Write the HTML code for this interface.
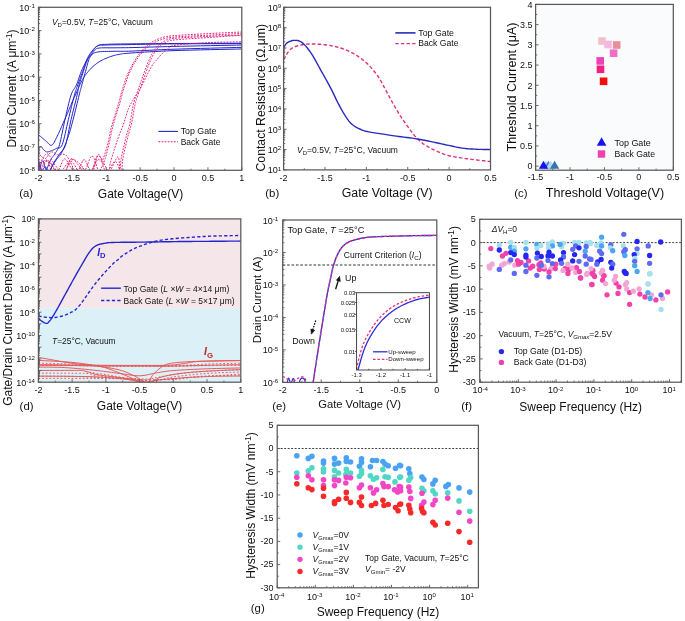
<!DOCTYPE html>
<html><head><meta charset="utf-8"><style>
html,body{margin:0;padding:0;background:#fff;}
svg{display:block;font-family:"Liberation Sans", sans-serif;will-change:transform;}
</style></head><body>
<svg width="685" height="621" viewBox="0 0 685 621">
<rect width="685" height="621" fill="#fff"/>
<clipPath id="ca"><rect x="38.5" y="7.3" width="203.3" height="163.0"/></clipPath>
<g clip-path="url(#ca)">
<path d="M38.50 163.31 L38.76 163.92 L39.11 164.82 L39.52 165.88 L39.98 167.03 L40.47 168.14 L40.96 169.13 L41.44 169.88 L41.89 170.30 L42.31 170.31 L42.72 169.97 L43.13 169.40 L43.54 168.70 L43.96 167.98 L44.38 167.35 L44.82 166.93 L45.28 166.81 L45.75 167.09 L46.25 167.70 L46.75 168.52 L47.27 169.43 L47.79 170.30 L48.31 171.01 L48.83 171.44 L49.34 171.46 L49.84 171.07 L50.31 170.35 L50.78 169.40 L51.25 168.26 L51.74 167.02 L52.25 165.73 L52.80 164.48 L53.41 163.31 L54.07 162.21 L54.79 161.07 L55.55 159.91 L56.33 158.73 L57.13 157.54 L57.94 156.36 L58.73 155.17 L59.51 154.00 L60.27 152.94 L61.05 152.04 L61.82 151.19 L62.60 150.32 L63.37 149.32 L64.13 148.11 L64.88 146.60 L65.61 144.69 L66.31 142.32 L66.99 139.55 L67.66 136.47 L68.32 133.19 L68.98 129.78 L69.64 126.35 L70.32 122.98 L71.03 119.77 L71.79 116.57 L72.60 113.24 L73.44 109.86 L74.29 106.51 L75.11 103.28 L75.87 100.24 L76.55 97.48 L77.13 95.09 L77.56 93.15 L77.86 91.62 L78.07 90.39 L78.23 89.35 L78.38 88.39 L78.56 87.39 L78.80 86.25 L79.16 84.84 L79.63 83.18 L80.17 81.36 L80.77 79.44 L81.40 77.46 L82.06 75.48 L82.70 73.53 L83.32 71.67 L83.90 69.94 L84.44 68.32 L84.95 66.75 L85.45 65.23 L85.94 63.77 L86.43 62.36 L86.92 61.02 L87.43 59.74 L87.97 58.53 L88.53 57.39 L89.09 56.34 L89.67 55.36 L90.26 54.44 L90.86 53.56 L91.46 52.72 L92.08 51.89 L92.71 51.08 L93.34 50.26 L93.96 49.45 L94.58 48.65 L95.21 47.89 L95.87 47.18 L96.57 46.53 L97.32 45.96 L98.13 45.49 L98.90 45.13 L99.56 44.87 L100.21 44.70 L100.93 44.59 L101.81 44.52 L102.93 44.46 L104.39 44.41 L106.27 44.32 L108.53 44.23 L111.08 44.16 L113.92 44.09 L117.02 44.04 L120.40 43.99 L124.02 43.95 L127.90 43.91 L132.02 43.86 L136.32 43.81 L140.77 43.76 L145.45 43.72 L150.40 43.68 L155.68 43.64 L161.34 43.59 L167.44 43.55 L174.03 43.51 L181.74 43.46 L190.75 43.41 L200.54 43.36 L210.54 43.31 L220.22 43.27 L229.02 43.22 L236.40 43.19 L241.80 43.16" fill="none" stroke="#2323c8" stroke-width="1.0" stroke-linejoin="round"/>
<path d="M38.50 147.71 L38.71 147.60 L39.00 147.41 L39.35 147.19 L39.73 146.96 L40.12 146.75 L40.52 146.59 L40.89 146.51 L41.21 146.55 L41.49 146.71 L41.73 146.97 L41.95 147.32 L42.17 147.71 L42.39 148.14 L42.64 148.57 L42.92 148.98 L43.24 149.34 L43.61 149.70 L44.01 150.09 L44.43 150.49 L44.88 150.89 L45.35 151.24 L45.85 151.55 L46.36 151.78 L46.90 151.90 L47.48 151.93 L48.10 151.86 L48.74 151.71 L49.41 151.51 L50.09 151.27 L50.76 151.01 L51.42 150.75 L52.05 150.51 L52.66 150.27 L53.25 150.02 L53.83 149.75 L54.41 149.47 L54.99 149.18 L55.57 148.86 L56.17 148.53 L56.80 148.18 L57.44 147.94 L58.09 147.89 L58.75 147.90 L59.42 147.84 L60.11 147.62 L60.80 147.09 L61.50 146.16 L62.22 144.69 L62.95 142.59 L63.70 139.96 L64.46 136.90 L65.23 133.55 L66.00 130.04 L66.78 126.48 L67.55 123.02 L68.32 119.77 L69.10 116.57 L69.91 113.24 L70.72 109.86 L71.54 106.51 L72.33 103.28 L73.08 100.24 L73.78 97.48 L74.42 95.09 L74.96 93.15 L75.41 91.62 L75.80 90.39 L76.15 89.35 L76.50 88.39 L76.88 87.39 L77.30 86.25 L77.80 84.84 L78.39 83.18 L79.05 81.36 L79.75 79.44 L80.47 77.46 L81.20 75.48 L81.92 73.53 L82.60 71.67 L83.23 69.94 L83.79 68.32 L84.32 66.75 L84.82 65.23 L85.30 63.77 L85.78 62.36 L86.26 61.02 L86.76 59.74 L87.29 58.53 L87.85 57.39 L88.41 56.33 L88.99 55.34 L89.58 54.41 L90.18 53.53 L90.79 52.68 L91.41 51.87 L92.04 51.08 L92.66 50.30 L93.26 49.53 L93.87 48.80 L94.49 48.11 L95.15 47.47 L95.85 46.89 L96.61 46.38 L97.46 45.95 L98.28 45.63 L99.02 45.42 L99.77 45.28 L100.59 45.20 L101.57 45.15 L102.79 45.12 L104.33 45.09 L106.27 45.02 L108.56 44.94 L111.13 44.88 L113.97 44.82 L117.07 44.78 L120.43 44.73 L124.04 44.68 L127.91 44.62 L132.02 44.56 L136.32 44.48 L140.77 44.39 L145.45 44.29 L150.40 44.19 L155.68 44.10 L161.34 44.01 L167.44 43.93 L174.03 43.86 L181.74 43.81 L190.75 43.76 L200.54 43.73 L210.54 43.70 L220.22 43.68 L229.02 43.66 L236.40 43.64 L241.80 43.63" fill="none" stroke="#2323c8" stroke-width="1.0" stroke-linejoin="round"/>
<path d="M38.50 172.63 L38.71 171.86 L39.00 170.79 L39.35 169.51 L39.73 168.12 L40.12 166.70 L40.52 165.37 L40.89 164.21 L41.21 163.31 L41.50 162.63 L41.77 162.02 L42.02 161.52 L42.27 161.13 L42.51 160.87 L42.75 160.75 L42.99 160.78 L43.24 160.99 L43.49 161.44 L43.72 162.16 L43.95 163.08 L44.18 164.11 L44.42 165.20 L44.67 166.25 L44.96 167.20 L45.28 167.97 L45.61 168.67 L45.95 169.42 L46.30 170.15 L46.67 170.81 L47.09 171.33 L47.55 171.66 L48.07 171.72 L48.66 171.46 L49.35 170.82 L50.12 169.80 L50.96 168.51 L51.84 167.03 L52.75 165.44 L53.67 163.85 L54.57 162.34 L55.44 160.99 L56.29 159.81 L57.15 158.74 L58.00 157.71 L58.86 156.69 L59.71 155.62 L60.55 154.46 L61.39 153.16 L62.22 151.67 L63.05 149.96 L63.88 148.07 L64.72 146.04 L65.55 143.91 L66.36 141.74 L67.14 139.56 L67.89 137.42 L68.59 135.37 L69.23 133.45 L69.80 131.63 L70.33 129.87 L70.84 128.09 L71.35 126.25 L71.87 124.29 L72.44 122.15 L73.06 119.77 L73.77 117.02 L74.55 113.90 L75.38 110.54 L76.22 107.09 L77.05 103.68 L77.84 100.46 L78.55 97.54 L79.16 95.09 L79.65 93.15 L80.04 91.62 L80.37 90.39 L80.64 89.35 L80.90 88.39 L81.18 87.39 L81.49 86.25 L81.87 84.84 L82.32 83.18 L82.81 81.36 L83.33 79.44 L83.86 77.46 L84.40 75.48 L84.94 73.53 L85.45 71.67 L85.94 69.94 L86.38 68.32 L86.78 66.76 L87.17 65.26 L87.55 63.81 L87.94 62.42 L88.35 61.07 L88.81 59.77 L89.33 58.53 L89.91 57.31 L90.56 56.13 L91.26 54.98 L91.98 53.89 L92.71 52.87 L93.42 51.93 L94.11 51.10 L94.75 50.38 L95.27 49.79 L95.67 49.34 L96.00 48.99 L96.34 48.72 L96.75 48.51 L97.29 48.35 L98.02 48.20 L99.02 48.05 L100.27 47.92 L101.72 47.84 L103.34 47.81 L105.11 47.80 L106.99 47.81 L108.96 47.83 L110.99 47.83 L113.04 47.82 L115.02 47.79 L116.90 47.78 L118.78 47.77 L120.78 47.76 L123.00 47.74 L125.54 47.71 L128.51 47.66 L132.02 47.58 L135.99 47.48 L140.30 47.36 L144.95 47.23 L149.98 47.07 L155.38 46.91 L161.18 46.75 L167.39 46.58 L174.03 46.42 L181.74 46.25 L190.75 46.05 L200.54 45.85 L210.54 45.65 L220.22 45.45 L229.02 45.28 L236.40 45.13 L241.80 45.02" fill="none" stroke="#2323c8" stroke-width="1.0" stroke-linejoin="round"/>
<path d="M38.50 158.66 L38.65 159.42 L38.85 160.47 L39.08 161.72 L39.35 163.10 L39.63 164.50 L39.93 165.83 L40.23 167.02 L40.53 167.97 L40.83 168.73 L41.15 169.39 L41.47 169.96 L41.80 170.45 L42.15 170.84 L42.50 171.14 L42.87 171.35 L43.24 171.46 L43.63 171.50 L44.03 171.46 L44.43 171.32 L44.85 171.10 L45.28 170.78 L45.72 170.35 L46.17 169.80 L46.63 169.14 L47.11 168.28 L47.60 167.22 L48.11 166.00 L48.62 164.70 L49.14 163.37 L49.67 162.07 L50.19 160.87 L50.70 159.82 L51.20 158.95 L51.70 158.20 L52.19 157.54 L52.69 156.91 L53.19 156.29 L53.70 155.62 L54.22 154.87 L54.76 154.00 L55.32 153.11 L55.89 152.28 L56.46 151.45 L57.05 150.54 L57.65 149.47 L58.26 148.19 L58.88 146.62 L59.51 144.69 L60.15 142.32 L60.80 139.55 L61.46 136.47 L62.13 133.19 L62.82 129.78 L63.51 126.35 L64.21 122.98 L64.93 119.77 L65.66 116.57 L66.42 113.24 L67.20 109.86 L67.98 106.51 L68.76 103.28 L69.54 100.24 L70.29 97.48 L71.03 95.09 L71.74 93.15 L72.43 91.62 L73.11 90.39 L73.78 89.35 L74.45 88.39 L75.11 87.39 L75.78 86.25 L76.45 84.84 L77.13 83.17 L77.80 81.33 L78.48 79.39 L79.16 77.39 L79.84 75.39 L80.52 73.45 L81.19 71.61 L81.87 69.94 L82.56 68.40 L83.26 66.92 L83.96 65.51 L84.67 64.18 L85.36 62.92 L86.03 61.75 L86.68 60.67 L87.29 59.69 L87.85 58.83 L88.36 58.10 L88.83 57.47 L89.28 56.91 L89.74 56.42 L90.23 55.95 L90.76 55.50 L91.36 55.04 L91.96 54.56 L92.52 54.11 L93.08 53.68 L93.69 53.27 L94.39 52.90 L95.22 52.56 L96.23 52.26 L97.46 52.01 L98.93 51.81 L100.61 51.66 L102.46 51.56 L104.45 51.48 L106.53 51.44 L108.69 51.40 L110.87 51.36 L113.04 51.31 L115.10 51.27 L117.01 51.26 L118.90 51.26 L120.88 51.27 L123.07 51.26 L125.57 51.24 L128.52 51.18 L132.02 51.08 L135.99 50.92 L140.30 50.73 L144.95 50.50 L149.98 50.25 L155.38 49.98 L161.18 49.72 L167.39 49.46 L174.03 49.21 L181.74 48.97 L190.75 48.70 L200.54 48.43 L210.54 48.17 L220.22 47.91 L229.02 47.69 L236.40 47.50 L241.80 47.35" fill="none" stroke="#2323c8" stroke-width="1.0" stroke-linejoin="round"/>
<path d="M38.50 134.67 L39.06 135.15 L39.80 135.80 L40.69 136.57 L41.67 137.42 L42.70 138.31 L43.74 139.19 L44.72 140.01 L45.62 140.73 L46.43 141.46 L47.22 142.30 L48.00 143.16 L48.76 143.97 L49.51 144.66 L50.26 145.13 L51.02 145.32 L51.78 145.15 L52.56 144.56 L53.35 143.60 L54.15 142.34 L54.94 140.89 L55.72 139.31 L56.49 137.69 L57.23 136.12 L57.95 134.67 L58.63 133.31 L59.29 131.93 L59.92 130.53 L60.53 129.13 L61.14 127.72 L61.74 126.31 L62.35 124.90 L62.96 123.50 L63.59 122.09 L64.22 120.69 L64.85 119.27 L65.48 117.86 L66.10 116.46 L66.72 115.06 L67.32 113.68 L67.91 112.32 L68.49 110.95 L69.07 109.56 L69.64 108.17 L70.19 106.80 L70.74 105.47 L71.26 104.18 L71.77 102.97 L72.25 101.84 L72.69 100.83 L73.10 99.93 L73.48 99.12 L73.84 98.35 L74.20 97.59 L74.57 96.82 L74.95 95.99 L75.37 95.09 L75.81 94.09 L76.28 93.03 L76.76 91.92 L77.25 90.79 L77.74 89.66 L78.22 88.55 L78.70 87.48 L79.16 86.47 L79.60 85.51 L80.04 84.57 L80.46 83.65 L80.88 82.76 L81.30 81.90 L81.71 81.06 L82.13 80.26 L82.55 79.49 L82.95 78.77 L83.33 78.12 L83.70 77.51 L84.07 76.92 L84.47 76.34 L84.90 75.73 L85.38 75.08 L85.94 74.36 L86.56 73.57 L87.23 72.73 L87.94 71.84 L88.70 70.93 L89.50 70.01 L90.32 69.10 L91.17 68.22 L92.04 67.38 L92.93 66.56 L93.85 65.76 L94.80 64.97 L95.78 64.19 L96.78 63.43 L97.82 62.70 L98.88 62.00 L99.96 61.32 L101.09 60.68 L102.27 60.06 L103.48 59.46 L104.71 58.89 L105.96 58.35 L107.21 57.84 L108.44 57.35 L109.66 56.90 L110.83 56.48 L111.96 56.10 L113.08 55.75 L114.20 55.43 L115.35 55.13 L116.54 54.85 L117.80 54.59 L119.14 54.34 L120.39 54.11 L121.44 53.93 L122.44 53.77 L123.55 53.62 L124.91 53.48 L126.67 53.33 L128.99 53.15 L132.02 52.94 L135.70 52.69 L139.87 52.41 L144.51 52.10 L149.59 51.79 L155.11 51.47 L161.04 51.17 L167.35 50.88 L174.03 50.61 L181.74 50.36 L190.75 50.12 L200.54 49.88 L210.54 49.65 L220.22 49.44 L229.02 49.26 L236.40 49.10 L241.80 48.98" fill="none" stroke="#2323c8" stroke-width="1.0" stroke-linejoin="round"/>
<path d="M38.50 166.34 L39.15 165.20 L40.01 163.51 L41.04 161.48 L42.19 159.32 L43.39 157.25 L44.61 155.48 L45.79 154.23 L46.88 153.70 L47.89 153.97 L48.89 154.87 L49.88 156.25 L50.86 157.95 L51.85 159.81 L52.84 161.68 L53.85 163.41 L54.87 164.85 L55.91 166.19 L56.96 167.67 L58.03 169.18 L59.10 170.62 L60.17 171.88 L61.24 172.85 L62.31 173.42 L63.35 173.51 L64.38 172.82 L65.39 171.36 L66.39 169.39 L67.39 167.19 L68.40 165.03 L69.42 163.20 L70.46 161.96 L71.54 161.58 L72.66 162.22 L73.83 163.66 L75.04 165.67 L76.25 168.01 L77.46 170.44 L78.64 172.73 L79.78 174.64 L80.86 175.93 L81.86 176.73 L82.78 177.34 L83.66 177.72 L84.52 177.88 L85.38 177.80 L86.26 177.47 L87.19 176.88 L88.19 176.02 L89.30 174.66 L90.51 172.72 L91.77 170.40 L93.06 167.89 L94.32 165.38 L95.52 163.08 L96.62 161.18 L97.58 159.88 L98.38 159.33 L99.04 159.40 L99.61 159.88 L100.11 160.56 L100.59 161.22 L101.07 161.66 L101.60 161.65 L102.20 160.99 L102.89 159.60 L103.65 157.69 L104.43 155.37 L105.23 152.80 L106.02 150.12 L106.76 147.47 L107.44 144.99 L108.03 142.82 L108.51 140.93 L108.90 139.16 L109.22 137.49 L109.51 135.88 L109.78 134.31 L110.05 132.75 L110.37 131.18 L110.74 129.55 L111.17 127.89 L111.62 126.23 L112.10 124.56 L112.59 122.90 L113.09 121.24 L113.60 119.58 L114.10 117.93 L114.60 116.28 L115.10 114.62 L115.62 112.95 L116.14 111.27 L116.66 109.60 L117.18 107.95 L117.68 106.33 L118.15 104.75 L118.60 103.24 L118.99 101.83 L119.33 100.54 L119.63 99.32 L119.93 98.11 L120.23 96.88 L120.57 95.57 L120.97 94.14 L121.45 92.53 L122.00 90.70 L122.62 88.68 L123.28 86.54 L123.98 84.32 L124.71 82.07 L125.46 79.86 L126.23 77.74 L127.00 75.76 L127.78 73.90 L128.58 72.11 L129.40 70.36 L130.24 68.67 L131.10 67.02 L131.98 65.41 L132.87 63.82 L133.78 62.25 L134.71 60.70 L135.66 59.17 L136.62 57.67 L137.60 56.20 L138.61 54.78 L139.62 53.40 L140.66 52.09 L141.71 50.84 L142.78 49.67 L143.86 48.55 L144.96 47.49 L146.08 46.48 L147.22 45.52 L148.37 44.61 L149.54 43.75 L150.72 42.93 L151.91 42.15 L153.10 41.43 L154.31 40.76 L155.53 40.13 L156.78 39.55 L158.06 39.01 L159.38 38.51 L160.75 38.04 L162.03 37.62 L163.15 37.27 L164.22 36.97 L165.37 36.70 L166.71 36.45 L168.37 36.21 L170.45 35.97 L173.08 35.71 L176.37 35.43 L180.23 35.16 L184.54 34.89 L189.15 34.62 L193.94 34.35 L198.75 34.10 L203.45 33.85 L207.92 33.61 L212.43 33.38 L217.25 33.13 L222.18 32.90 L227.04 32.67 L231.62 32.45 L235.73 32.26 L239.19 32.11 L241.80 31.98" fill="none" stroke="#e0207a" stroke-width="1.0" stroke-dasharray="1.8 1.3" stroke-linejoin="round"/>
<path d="M38.50 165.74 L39.19 165.19 L40.13 164.29 L41.24 163.19 L42.47 162.08 L43.75 161.09 L45.02 160.41 L46.22 160.20 L47.27 160.60 L48.20 161.88 L49.07 163.97 L49.89 166.61 L50.68 169.50 L51.47 172.38 L52.26 174.97 L53.09 176.99 L53.95 178.16 L54.85 178.48 L55.75 178.22 L56.66 177.50 L57.59 176.43 L58.54 175.14 L59.52 173.74 L60.53 172.36 L61.57 171.11 L62.67 169.81 L63.82 168.27 L65.00 166.58 L66.21 164.87 L67.43 163.24 L68.64 161.81 L69.82 160.68 L70.97 159.96 L72.07 159.65 L73.16 159.63 L74.22 159.88 L75.28 160.34 L76.33 160.98 L77.38 161.74 L78.44 162.60 L79.51 163.50 L80.61 164.60 L81.71 166.01 L82.83 167.60 L83.95 169.28 L85.06 170.93 L86.16 172.43 L87.24 173.68 L88.30 174.56 L89.33 175.12 L90.35 175.50 L91.35 175.69 L92.33 175.70 L93.31 175.54 L94.27 175.21 L95.23 174.73 L96.19 174.10 L97.15 173.32 L98.10 172.36 L99.06 171.24 L100.01 169.96 L100.93 168.53 L101.84 166.94 L102.72 165.20 L103.56 163.31 L104.37 161.17 L105.18 158.70 L105.97 156.02 L106.73 153.22 L107.45 150.40 L108.13 147.67 L108.75 145.11 L109.32 142.82 L109.79 140.82 L110.18 139.00 L110.51 137.32 L110.80 135.74 L111.07 134.21 L111.35 132.70 L111.66 131.16 L112.03 129.55 L112.44 127.89 L112.88 126.23 L113.34 124.56 L113.81 122.90 L114.29 121.24 L114.77 119.58 L115.26 117.93 L115.75 116.28 L116.25 114.62 L116.78 112.95 L117.31 111.27 L117.84 109.60 L118.37 107.95 L118.88 106.33 L119.37 104.75 L119.82 103.24 L120.22 101.83 L120.55 100.54 L120.86 99.32 L121.15 98.11 L121.45 96.88 L121.79 95.57 L122.19 94.14 L122.67 92.53 L123.22 90.70 L123.84 88.68 L124.50 86.54 L125.20 84.32 L125.93 82.07 L126.68 79.86 L127.45 77.74 L128.22 75.76 L129.00 73.90 L129.81 72.09 L130.63 70.33 L131.47 68.63 L132.33 66.97 L133.20 65.36 L134.09 63.79 L135.00 62.25 L135.92 60.76 L136.87 59.30 L137.83 57.89 L138.80 56.52 L139.80 55.20 L140.80 53.93 L141.83 52.71 L142.86 51.54 L143.91 50.44 L144.96 49.39 L146.04 48.39 L147.12 47.44 L148.23 46.54 L149.35 45.68 L150.50 44.87 L151.67 44.09 L152.86 43.36 L154.07 42.68 L155.29 42.04 L156.54 41.44 L157.81 40.89 L159.12 40.37 L160.46 39.89 L161.84 39.43 L163.11 39.03 L164.23 38.68 L165.31 38.37 L166.45 38.10 L167.78 37.84 L169.41 37.60 L171.46 37.36 L174.03 37.11 L177.23 36.85 L180.98 36.61 L185.15 36.37 L189.62 36.15 L194.26 35.92 L198.94 35.70 L203.53 35.47 L207.92 35.24 L212.38 35.00 L217.18 34.73 L222.11 34.46 L226.98 34.20 L231.58 33.94 L235.71 33.71 L239.19 33.52 L241.80 33.38" fill="none" stroke="#e0207a" stroke-width="1.0" stroke-dasharray="1.8 1.3" stroke-linejoin="round"/>
<path d="M38.50 171.51 L39.18 170.47 L40.08 168.89 L41.15 166.99 L42.35 164.99 L43.61 163.09 L44.91 161.51 L46.18 160.45 L47.39 160.13 L48.56 160.70 L49.79 162.02 L51.03 163.87 L52.28 166.03 L53.51 168.29 L54.71 170.43 L55.86 172.23 L56.94 173.48 L57.94 174.31 L58.87 174.99 L59.76 175.50 L60.61 175.81 L61.45 175.89 L62.28 175.72 L63.11 175.27 L63.97 174.51 L64.85 173.20 L65.74 171.26 L66.62 168.91 L67.51 166.38 L68.39 163.87 L69.26 161.63 L70.13 159.86 L70.99 158.79 L71.83 158.45 L72.66 158.64 L73.49 159.24 L74.31 160.13 L75.12 161.19 L75.95 162.31 L76.77 163.36 L77.62 164.22 L78.47 165.11 L79.31 166.23 L80.17 167.45 L81.02 168.64 L81.89 169.67 L82.77 170.42 L83.67 170.76 L84.59 170.56 L85.52 169.49 L86.47 167.53 L87.43 165.03 L88.41 162.31 L89.40 159.71 L90.40 157.57 L91.42 156.23 L92.44 156.02 L93.49 157.20 L94.56 159.56 L95.66 162.73 L96.77 166.35 L97.87 170.06 L98.95 173.49 L100.00 176.28 L101.01 178.06 L101.96 178.94 L102.86 179.31 L103.71 179.23 L104.56 178.78 L105.41 178.02 L106.29 177.01 L107.22 175.82 L108.23 174.52 L109.37 172.75 L110.65 170.29 L112.01 167.43 L113.38 164.43 L114.72 161.59 L115.95 159.17 L117.02 157.47 L117.87 156.77 L118.49 157.34 L118.92 159.07 L119.19 161.56 L119.37 164.46 L119.47 167.39 L119.56 169.97 L119.66 171.84 L119.82 172.63 L119.99 172.36 L120.12 171.40 L120.22 169.88 L120.32 167.94 L120.44 165.72 L120.61 163.34 L120.85 160.94 L121.18 158.66 L121.61 156.33 L122.14 153.76 L122.74 151.03 L123.38 148.22 L124.04 145.41 L124.70 142.66 L125.34 140.07 L125.92 137.70 L126.46 135.59 L127.00 133.68 L127.52 131.91 L128.04 130.22 L128.54 128.54 L129.03 126.83 L129.51 125.01 L129.99 123.03 L130.44 120.84 L130.87 118.49 L131.29 116.04 L131.70 113.54 L132.10 111.07 L132.51 108.68 L132.93 106.43 L133.37 104.40 L133.81 102.64 L134.23 101.13 L134.64 99.77 L135.06 98.49 L135.51 97.21 L136.01 95.84 L136.55 94.31 L137.17 92.53 L137.87 90.45 L138.66 88.16 L139.52 85.70 L140.40 83.15 L141.31 80.58 L142.20 78.06 L143.07 75.66 L143.88 73.43 L144.64 71.35 L145.37 69.34 L146.09 67.40 L146.79 65.53 L147.48 63.73 L148.18 62.00 L148.87 60.34 L149.57 58.76 L150.26 57.26 L150.93 55.85 L151.59 54.52 L152.25 53.26 L152.92 52.06 L153.63 50.91 L154.38 49.81 L155.19 48.75 L156.05 47.73 L156.95 46.75 L157.88 45.83 L158.85 44.96 L159.85 44.15 L160.88 43.38 L161.95 42.66 L163.06 42.00 L164.04 41.39 L164.84 40.86 L165.59 40.39 L166.42 39.96 L167.46 39.57 L168.84 39.20 L170.69 38.85 L173.15 38.50 L176.32 38.17 L180.13 37.86 L184.42 37.58 L189.05 37.32 L193.86 37.08 L198.71 36.85 L203.44 36.63 L207.92 36.41 L212.43 36.19 L217.24 35.98 L222.18 35.77 L227.03 35.58 L231.61 35.40 L235.73 35.24 L239.19 35.11 L241.80 35.01" fill="none" stroke="#e0207a" stroke-width="1.0" stroke-dasharray="1.8 1.3" stroke-linejoin="round"/>
<path d="M38.50 175.59 L39.18 174.29 L40.09 172.38 L41.16 170.09 L42.36 167.65 L43.63 165.29 L44.94 163.24 L46.23 161.73 L47.46 160.99 L48.67 161.23 L49.93 162.33 L51.23 163.99 L52.53 165.95 L53.82 167.93 L55.07 169.65 L56.26 170.83 L57.38 171.19 L58.39 170.56 L59.32 169.12 L60.19 167.14 L61.02 164.91 L61.84 162.68 L62.68 160.74 L63.57 159.35 L64.52 158.79 L65.54 159.19 L66.59 160.32 L67.68 161.99 L68.80 163.95 L69.92 165.98 L71.05 167.88 L72.18 169.40 L73.29 170.34 L74.40 170.63 L75.50 170.46 L76.60 169.99 L77.70 169.34 L78.81 168.66 L79.93 168.08 L81.05 167.76 L82.17 167.83 L83.33 168.48 L84.52 169.66 L85.72 171.14 L86.92 172.71 L88.11 174.13 L89.27 175.18 L90.38 175.64 L91.43 175.28 L92.41 173.76 L93.33 171.14 L94.20 167.82 L95.04 164.19 L95.87 160.63 L96.70 157.54 L97.56 155.30 L98.44 154.31 L99.35 154.82 L100.25 156.56 L101.15 159.15 L102.07 162.20 L103.01 165.35 L103.97 168.20 L104.96 170.37 L106.00 171.48 L107.11 171.39 L108.29 170.40 L109.53 168.81 L110.79 166.89 L112.03 164.91 L113.23 163.18 L114.35 161.96 L115.37 161.53 L116.29 162.09 L117.16 163.42 L117.99 165.26 L118.75 167.33 L119.45 169.38 L120.10 171.12 L120.67 172.30 L121.18 172.63 L121.56 172.13 L121.82 171.06 L121.98 169.53 L122.09 167.65 L122.19 165.51 L122.33 163.23 L122.54 160.91 L122.87 158.66 L123.32 156.33 L123.86 153.76 L124.45 151.03 L125.09 148.22 L125.75 145.41 L126.40 142.66 L127.03 140.07 L127.61 137.70 L128.16 135.59 L128.69 133.68 L129.22 131.91 L129.73 130.22 L130.23 128.54 L130.73 126.83 L131.21 125.01 L131.68 123.03 L132.13 120.84 L132.57 118.49 L132.98 116.04 L133.39 113.54 L133.80 111.07 L134.21 108.68 L134.63 106.43 L135.07 104.40 L135.50 102.64 L135.90 101.13 L136.31 99.77 L136.72 98.49 L137.16 97.21 L137.64 95.84 L138.18 94.31 L138.79 92.53 L139.50 90.45 L140.30 88.16 L141.16 85.70 L142.06 83.15 L142.98 80.58 L143.88 78.06 L144.76 75.66 L145.57 73.43 L146.34 71.35 L147.07 69.33 L147.79 67.38 L148.49 65.50 L149.18 63.69 L149.87 61.97 L150.56 60.32 L151.26 58.76 L151.95 57.30 L152.62 55.94 L153.28 54.67 L153.94 53.48 L154.62 52.35 L155.33 51.27 L156.08 50.23 L156.89 49.21 L157.75 48.23 L158.65 47.28 L159.58 46.38 L160.55 45.53 L161.55 44.73 L162.58 43.99 L163.65 43.31 L164.75 42.69 L165.74 42.16 L166.55 41.72 L167.31 41.35 L168.15 41.04 L169.18 40.75 L170.54 40.48 L172.34 40.20 L174.71 39.90 L177.74 39.59 L181.36 39.29 L185.43 38.99 L189.82 38.71 L194.39 38.42 L199.02 38.14 L203.57 37.86 L207.92 37.57 L212.35 37.26 L217.13 36.93 L222.06 36.60 L226.93 36.26 L231.55 35.95 L235.70 35.66 L239.18 35.42 L241.80 35.24" fill="none" stroke="#e0207a" stroke-width="1.0" stroke-dasharray="1.8 1.3" stroke-linejoin="round"/>
<path d="M38.50 152.60 L38.97 153.16 L39.59 154.01 L40.33 155.02 L41.15 156.09 L42.03 157.11 L42.92 157.97 L43.81 158.55 L44.65 158.74 L45.46 158.45 L46.30 157.74 L47.16 156.75 L48.02 155.59 L48.88 154.42 L49.73 153.34 L50.57 152.51 L51.39 152.04 L52.17 151.95 L52.91 152.13 L53.62 152.51 L54.34 153.01 L55.07 153.57 L55.84 154.12 L56.66 154.58 L57.56 154.90 L58.53 154.97 L59.55 154.83 L60.63 154.59 L61.74 154.34 L62.89 154.20 L64.05 154.28 L65.24 154.67 L66.42 155.49 L67.65 156.99 L68.94 159.19 L70.26 161.80 L71.59 164.58 L72.92 167.26 L74.21 169.57 L75.44 171.25 L76.59 172.03 L77.65 171.69 L78.65 170.37 L79.60 168.38 L80.51 166.05 L81.40 163.68 L82.27 161.58 L83.16 160.08 L84.06 159.49 L84.98 159.99 L85.89 161.40 L86.80 163.38 L87.71 165.65 L88.61 167.90 L89.51 169.80 L90.41 171.07 L91.30 171.40 L92.17 170.51 L92.99 168.60 L93.79 166.01 L94.60 163.11 L95.44 160.25 L96.32 157.79 L97.28 156.08 L98.33 155.48 L99.55 156.22 L100.96 158.04 L102.48 160.62 L104.03 163.60 L105.53 166.63 L106.90 169.38 L108.08 171.49 L108.98 172.63 L109.53 172.89 L109.78 172.64 L109.81 171.95 L109.73 170.88 L109.62 169.48 L109.58 167.83 L109.70 165.99 L110.06 164.01 L110.68 161.72 L111.46 158.99 L112.36 155.93 L113.34 152.68 L114.37 149.36 L115.40 146.10 L116.40 143.02 L117.31 140.26 L118.18 137.78 L119.05 135.43 L119.91 133.20 L120.76 131.06 L121.59 129.00 L122.40 126.99 L123.16 125.01 L123.89 123.03 L124.54 121.08 L125.13 119.17 L125.67 117.31 L126.19 115.49 L126.70 113.71 L127.25 111.97 L127.83 110.27 L128.49 108.59 L129.24 106.93 L130.06 105.27 L130.93 103.64 L131.82 102.04 L132.71 100.51 L133.58 99.06 L134.39 97.71 L135.14 96.48 L135.76 95.51 L136.27 94.83 L136.71 94.32 L137.13 93.85 L137.59 93.31 L138.13 92.56 L138.81 91.49 L139.68 89.96 L140.77 87.86 L142.08 85.23 L143.53 82.24 L145.06 79.06 L146.61 75.87 L148.11 72.82 L149.50 70.09 L150.72 67.84 L151.76 66.08 L152.66 64.66 L153.48 63.48 L154.24 62.49 L154.98 61.59 L155.75 60.73 L156.57 59.81 L157.50 58.76 L158.52 57.59 L159.60 56.38 L160.72 55.15 L161.87 53.93 L163.04 52.74 L164.21 51.62 L165.37 50.59 L166.51 49.68 L167.47 48.89 L168.20 48.20 L168.84 47.60 L169.52 47.06 L170.38 46.57 L171.57 46.12 L173.21 45.69 L175.46 45.26 L178.38 44.84 L181.88 44.45 L185.84 44.09 L190.13 43.76 L194.61 43.45 L199.15 43.18 L203.63 42.92 L207.92 42.69 L212.32 42.49 L217.08 42.32 L222.01 42.18 L226.89 42.07 L231.51 41.97 L235.68 41.89 L239.18 41.82 L241.80 41.76" fill="none" stroke="#e0207a" stroke-width="1.0" stroke-dasharray="1.8 1.3" stroke-linejoin="round"/>
</g>
<rect x="38.5" y="7.3" width="203.3" height="163.0" fill="none" stroke="#5a5a5a" stroke-width="1.25"/>
<path d="M38.50 170.30h3M38.50 147.01h3M38.50 123.73h3M38.50 100.44h3M38.50 77.16h3M38.50 53.87h3M38.50 30.59h3M38.50 7.30h3M38.50 163.29h1.6M38.50 159.19h1.6M38.50 156.28h1.6M38.50 154.02h1.6M38.50 152.18h1.6M38.50 150.62h1.6M38.50 149.27h1.6M38.50 148.08h1.6M38.50 140.00h1.6M38.50 135.90h1.6M38.50 132.99h1.6M38.50 130.74h1.6M38.50 128.89h1.6M38.50 127.34h1.6M38.50 125.99h1.6M38.50 124.79h1.6M38.50 116.72h1.6M38.50 112.62h1.6M38.50 109.71h1.6M38.50 107.45h1.6M38.50 105.61h1.6M38.50 104.05h1.6M38.50 102.70h1.6M38.50 101.51h1.6M38.50 93.43h1.6M38.50 89.33h1.6M38.50 86.42h1.6M38.50 84.17h1.6M38.50 82.32h1.6M38.50 80.76h1.6M38.50 79.41h1.6M38.50 78.22h1.6M38.50 70.15h1.6M38.50 66.05h1.6M38.50 63.14h1.6M38.50 60.88h1.6M38.50 59.04h1.6M38.50 57.48h1.6M38.50 56.13h1.6M38.50 54.94h1.6M38.50 46.86h1.6M38.50 42.76h1.6M38.50 39.85h1.6M38.50 37.60h1.6M38.50 35.75h1.6M38.50 34.19h1.6M38.50 32.84h1.6M38.50 31.65h1.6M38.50 23.58h1.6M38.50 19.48h1.6M38.50 16.57h1.6M38.50 14.31h1.6M38.50 12.47h1.6M38.50 10.91h1.6M38.50 9.56h1.6M38.50 8.37h1.6" stroke="#5a5a5a" stroke-width="0.9" fill="none"/>
<path d="M38.50 170.30v-3M72.38 170.30v-3M106.27 170.30v-3M140.15 170.30v-3M174.03 170.30v-3M207.92 170.30v-3M241.80 170.30v-3M55.44 170.30v-1.6M89.33 170.30v-1.6M123.21 170.30v-1.6M157.09 170.30v-1.6M190.98 170.30v-1.6M224.86 170.30v-1.6" stroke="#5a5a5a" stroke-width="0.9" fill="none"/>
<text x="34.80" y="173.80" font-size="9" text-anchor="end" fill="#111">10<tspan font-size="6.12" dy="-2.79">-8</tspan></text>
<text x="34.80" y="150.51" font-size="9" text-anchor="end" fill="#111">10<tspan font-size="6.12" dy="-2.79">-7</tspan></text>
<text x="34.80" y="127.23" font-size="9" text-anchor="end" fill="#111">10<tspan font-size="6.12" dy="-2.79">-6</tspan></text>
<text x="34.80" y="103.94" font-size="9" text-anchor="end" fill="#111">10<tspan font-size="6.12" dy="-2.79">-5</tspan></text>
<text x="34.80" y="80.66" font-size="9" text-anchor="end" fill="#111">10<tspan font-size="6.12" dy="-2.79">-4</tspan></text>
<text x="34.80" y="57.37" font-size="9" text-anchor="end" fill="#111">10<tspan font-size="6.12" dy="-2.79">-3</tspan></text>
<text x="34.80" y="34.09" font-size="9" text-anchor="end" fill="#111">10<tspan font-size="6.12" dy="-2.79">-2</tspan></text>
<text x="34.80" y="10.80" font-size="9" text-anchor="end" fill="#111">10<tspan font-size="6.12" dy="-2.79">-1</tspan></text>
<text x="38.50" y="181.30" font-size="9" text-anchor="middle" fill="#111">-2</text>
<text x="72.38" y="181.30" font-size="9" text-anchor="middle" fill="#111">-1.5</text>
<text x="106.27" y="181.30" font-size="9" text-anchor="middle" fill="#111">-1</text>
<text x="140.15" y="181.30" font-size="9" text-anchor="middle" fill="#111">-0.5</text>
<text x="174.03" y="181.30" font-size="9" text-anchor="middle" fill="#111">0</text>
<text x="207.92" y="181.30" font-size="9" text-anchor="middle" fill="#111">0.5</text>
<text x="241.80" y="181.30" font-size="9" text-anchor="middle" fill="#111">1</text>
<text x="16.00" y="88.50" font-size="12" text-anchor="middle" fill="#111" transform="rotate(-90 16.00 88.50)">Drain Current (A μm<tspan font-size="8.16" dy="-4.49">-1</tspan><tspan dy="4.49">)</tspan></text>
<text x="140.50" y="197.60" font-size="12" text-anchor="middle" fill="#111">Gate Voltage(V)</text>
<text x="19.20" y="197.30" font-size="11.4" text-anchor="start" fill="#111">(a)</text>
<text x="51.90" y="24.80" font-size="8.5" text-anchor="start" fill="#111"><tspan font-style="italic">V</tspan><tspan font-size="6.0" dy="2.10">D</tspan><tspan dy="-2.10">=0.5V, </tspan><tspan font-style="italic">T</tspan>=25°C, Vacuum</text>
<path d="M158.4 131.4H177.9" stroke="#2323c8" stroke-width="1.1"/>
<path d="M158.4 141.8H177.9" stroke="#e0207a" stroke-width="1.1" stroke-dasharray="1.8 1.3"/>
<text x="180.70" y="134.40" font-size="8.8" text-anchor="start" fill="#111">Top Gate</text>
<text x="180.70" y="144.80" font-size="8.5" text-anchor="start" fill="#111">Back Gate</text>
<clipPath id="cb"><rect x="283.6" y="7.3" width="206.89999999999998" height="162.6"/></clipPath>
<g clip-path="url(#cb)">
<path d="M283.60 59.54 L284.13 58.68 L284.81 57.49 L285.61 56.07 L286.52 54.52 L287.52 52.93 L288.59 51.41 L289.72 50.06 L290.88 48.97 L292.11 48.11 L293.43 47.37 L294.83 46.74 L296.29 46.21 L297.80 45.75 L299.34 45.36 L300.90 45.01 L302.47 44.70 L304.04 44.43 L305.62 44.23 L307.22 44.09 L308.85 44.00 L310.53 43.96 L312.27 43.97 L314.07 44.01 L315.96 44.09 L317.95 44.19 L320.03 44.32 L322.19 44.49 L324.41 44.70 L326.65 44.96 L328.90 45.28 L331.14 45.66 L333.34 46.12 L335.52 46.64 L337.73 47.21 L339.94 47.84 L342.15 48.53 L344.35 49.29 L346.51 50.12 L348.64 51.03 L350.72 52.02 L352.76 53.09 L354.80 54.26 L356.80 55.51 L358.78 56.83 L360.71 58.21 L362.58 59.63 L364.38 61.09 L366.11 62.58 L367.77 64.12 L369.36 65.72 L370.89 67.38 L372.37 69.08 L373.78 70.80 L375.14 72.54 L376.45 74.27 L377.70 76.00 L378.85 77.68 L379.89 79.33 L380.85 80.97 L381.77 82.63 L382.68 84.33 L383.62 86.12 L384.62 88.00 L385.73 90.02 L386.93 92.22 L388.21 94.60 L389.54 97.09 L390.90 99.65 L392.29 102.23 L393.68 104.77 L395.05 107.22 L396.40 109.53 L397.73 111.73 L399.05 113.85 L400.38 115.93 L401.70 117.94 L403.02 119.92 L404.34 121.84 L405.67 123.73 L407.00 125.59 L408.33 127.43 L409.66 129.26 L411.00 131.06 L412.33 132.81 L413.67 134.49 L415.01 136.10 L416.34 137.61 L417.67 139.01 L418.95 140.26 L420.16 141.37 L421.34 142.38 L422.53 143.31 L423.77 144.20 L425.12 145.08 L426.60 145.98 L428.26 146.93 L430.14 147.95 L432.19 149.02 L434.38 150.10 L436.67 151.18 L439.01 152.21 L441.37 153.19 L443.71 154.08 L445.98 154.86 L448.15 155.51 L450.25 156.05 L452.34 156.50 L454.43 156.89 L456.58 157.25 L458.83 157.58 L461.21 157.93 L463.77 158.31 L466.68 158.73 L470.00 159.17 L473.54 159.61 L477.13 160.04 L480.60 160.45 L483.76 160.81 L486.46 161.12 L488.51 161.36 L489.86 161.53 L490.66 161.62 L491.01 161.66 L491.05 161.66 L490.90 161.63 L490.68 161.60 L490.50 161.57 L490.50 161.57" fill="none" stroke="#e0307a" stroke-width="1.4" stroke-dasharray="3.6 2.2" stroke-linejoin="round"/>
<path d="M283.60 48.03 L283.84 47.62 L284.13 47.04 L284.46 46.36 L284.86 45.61 L285.31 44.84 L285.83 44.10 L286.42 43.42 L287.08 42.87 L287.84 42.39 L288.70 41.93 L289.65 41.50 L290.66 41.12 L291.70 40.79 L292.75 40.54 L293.78 40.38 L294.77 40.33 L295.73 40.34 L296.66 40.41 L297.60 40.54 L298.53 40.75 L299.48 41.07 L300.45 41.52 L301.44 42.11 L302.47 42.87 L303.54 43.80 L304.64 44.89 L305.77 46.13 L306.92 47.49 L308.09 48.96 L309.25 50.52 L310.42 52.15 L311.57 53.84 L312.72 55.63 L313.87 57.56 L315.02 59.58 L316.18 61.68 L317.33 63.83 L318.50 66.01 L319.67 68.17 L320.84 70.31 L322.03 72.41 L323.22 74.52 L324.42 76.64 L325.62 78.77 L326.83 80.92 L328.03 83.10 L329.24 85.32 L330.44 87.58 L331.64 89.93 L332.83 92.36 L334.03 94.85 L335.22 97.35 L336.42 99.85 L337.62 102.29 L338.83 104.65 L340.04 106.89 L341.27 109.07 L342.49 111.23 L343.72 113.34 L344.96 115.39 L346.20 117.34 L347.45 119.17 L348.71 120.84 L349.97 122.34 L351.25 123.64 L352.55 124.76 L353.85 125.73 L355.16 126.58 L356.47 127.33 L357.77 128.01 L359.05 128.64 L360.32 129.25 L361.54 129.81 L362.71 130.27 L363.85 130.65 L364.99 130.98 L366.15 131.27 L367.36 131.54 L368.63 131.81 L370.00 132.10 L371.47 132.39 L373.03 132.66 L374.65 132.92 L376.31 133.16 L378.01 133.40 L379.71 133.64 L381.41 133.88 L383.08 134.13 L384.68 134.38 L386.20 134.62 L387.71 134.85 L389.23 135.09 L390.81 135.34 L392.51 135.60 L394.35 135.87 L396.40 136.16 L398.68 136.47 L401.16 136.78 L403.80 137.11 L406.55 137.44 L409.35 137.80 L412.17 138.18 L414.96 138.58 L417.67 139.01 L420.32 139.47 L422.97 139.97 L425.62 140.49 L428.26 141.04 L430.91 141.60 L433.56 142.16 L436.21 142.72 L438.86 143.27 L441.56 143.84 L444.34 144.45 L447.14 145.07 L449.93 145.69 L452.67 146.28 L455.31 146.84 L457.81 147.33 L460.13 147.75 L462.22 148.08 L464.12 148.34 L465.86 148.55 L467.52 148.71 L469.13 148.84 L470.76 148.96 L472.46 149.06 L474.28 149.17 L476.32 149.27 L478.57 149.35 L480.92 149.41 L483.27 149.46 L485.51 149.50 L487.54 149.53 L489.23 149.55 L490.50 149.58" fill="none" stroke="#2a2ac0" stroke-width="1.4" stroke-linejoin="round"/>
</g>
<rect x="283.6" y="7.3" width="206.89999999999998" height="162.6" fill="none" stroke="#5a5a5a" stroke-width="1.25"/>
<path d="M283.60 169.90h3M283.60 149.58h3M283.60 129.25h3M283.60 108.93h3M283.60 88.60h3M283.60 68.28h3M283.60 47.95h3M283.60 27.62h3M283.60 7.30h3M283.60 163.78h1.6M283.60 160.20h1.6M283.60 157.66h1.6M283.60 155.69h1.6M283.60 154.08h1.6M283.60 152.72h1.6M283.60 151.54h1.6M283.60 150.51h1.6M283.60 143.46h1.6M283.60 139.88h1.6M283.60 137.34h1.6M283.60 135.37h1.6M283.60 133.76h1.6M283.60 132.40h1.6M283.60 131.22h1.6M283.60 130.18h1.6M283.60 123.13h1.6M283.60 119.55h1.6M283.60 117.01h1.6M283.60 115.04h1.6M283.60 113.43h1.6M283.60 112.07h1.6M283.60 110.89h1.6M283.60 109.86h1.6M283.60 102.81h1.6M283.60 99.23h1.6M283.60 96.69h1.6M283.60 94.72h1.6M283.60 93.11h1.6M283.60 91.75h1.6M283.60 90.57h1.6M283.60 89.53h1.6M283.60 82.48h1.6M283.60 78.90h1.6M283.60 76.36h1.6M283.60 74.39h1.6M283.60 72.78h1.6M283.60 71.42h1.6M283.60 70.24h1.6M283.60 69.21h1.6M283.60 62.16h1.6M283.60 58.58h1.6M283.60 56.04h1.6M283.60 54.07h1.6M283.60 52.46h1.6M283.60 51.10h1.6M283.60 49.92h1.6M283.60 48.88h1.6M283.60 41.83h1.6M283.60 38.25h1.6M283.60 35.71h1.6M283.60 33.74h1.6M283.60 32.13h1.6M283.60 30.77h1.6M283.60 29.59h1.6M283.60 28.56h1.6M283.60 21.51h1.6M283.60 17.93h1.6M283.60 15.39h1.6M283.60 13.42h1.6M283.60 11.81h1.6M283.60 10.45h1.6M283.60 9.27h1.6M283.60 8.23h1.6" stroke="#5a5a5a" stroke-width="0.9" fill="none"/>
<path d="M283.60 169.90v-3M324.98 169.90v-3M366.36 169.90v-3M407.74 169.90v-3M449.12 169.90v-3M490.50 169.90v-3M304.29 169.90v-1.6M345.67 169.90v-1.6M387.05 169.90v-1.6M428.43 169.90v-1.6M469.81 169.90v-1.6" stroke="#5a5a5a" stroke-width="0.9" fill="none"/>
<text x="281.20" y="173.40" font-size="9" text-anchor="end" fill="#111">10<tspan font-size="6.12" dy="-2.79">1</tspan></text>
<text x="281.20" y="153.08" font-size="9" text-anchor="end" fill="#111">10<tspan font-size="6.12" dy="-2.79">2</tspan></text>
<text x="281.20" y="132.75" font-size="9" text-anchor="end" fill="#111">10<tspan font-size="6.12" dy="-2.79">3</tspan></text>
<text x="281.20" y="112.43" font-size="9" text-anchor="end" fill="#111">10<tspan font-size="6.12" dy="-2.79">4</tspan></text>
<text x="281.20" y="92.10" font-size="9" text-anchor="end" fill="#111">10<tspan font-size="6.12" dy="-2.79">5</tspan></text>
<text x="281.20" y="71.78" font-size="9" text-anchor="end" fill="#111">10<tspan font-size="6.12" dy="-2.79">6</tspan></text>
<text x="281.20" y="51.45" font-size="9" text-anchor="end" fill="#111">10<tspan font-size="6.12" dy="-2.79">7</tspan></text>
<text x="281.20" y="31.12" font-size="9" text-anchor="end" fill="#111">10<tspan font-size="6.12" dy="-2.79">8</tspan></text>
<text x="281.20" y="10.80" font-size="9" text-anchor="end" fill="#111">10<tspan font-size="6.12" dy="-2.79">9</tspan></text>
<text x="283.60" y="181.30" font-size="9" text-anchor="middle" fill="#111">-2</text>
<text x="324.98" y="181.30" font-size="9" text-anchor="middle" fill="#111">-1.5</text>
<text x="366.36" y="181.30" font-size="9" text-anchor="middle" fill="#111">-1</text>
<text x="407.74" y="181.30" font-size="9" text-anchor="middle" fill="#111">-0.5</text>
<text x="449.12" y="181.30" font-size="9" text-anchor="middle" fill="#111">0</text>
<text x="490.50" y="181.30" font-size="9" text-anchor="middle" fill="#111">0.5</text>
<text x="264.60" y="97.70" font-size="12.25" text-anchor="middle" fill="#111" transform="rotate(-90 264.60 97.70)">Contact Resistance (Ω.μm)</text>
<text x="387.20" y="197.40" font-size="12.3" text-anchor="middle" fill="#111">Gate Voltage (V)</text>
<text x="265.30" y="197.30" font-size="11.4" text-anchor="start" fill="#111">(b)</text>
<text x="297.10" y="152.90" font-size="8.5" text-anchor="start" fill="#111"><tspan font-style="italic">V</tspan><tspan font-size="6.0" dy="2.10">D</tspan><tspan dy="-2.10">=0.5V, </tspan><tspan font-style="italic">T</tspan>=25°C, Vacuum</text>
<path d="M395.3 32.9H415.5" stroke="#2a2ac0" stroke-width="1.6"/>
<path d="M395.3 43.6H415.5" stroke="#e0307a" stroke-width="1.4" stroke-dasharray="3.4 2.2"/>
<text x="418.30" y="35.80" font-size="8.8" text-anchor="start" fill="#111">Top Gate</text>
<text x="418.30" y="46.30" font-size="8.6" text-anchor="start" fill="#111">Back Gate</text>
<rect x="535.6" y="4.4" width="137.69999999999993" height="165.79999999999998" fill="#fafbfd"/>
<path d="M545.80 160.80L550.50 168.80L541.10 168.80Z" fill="#a8e4f0"/>
<path d="M548.40 160.80L553.10 168.80L543.70 168.80Z" fill="#6a6af0"/>
<path d="M550.60 160.80L555.30 168.80L545.90 168.80Z" fill="#a8e4f0"/>
<path d="M543.50 160.80L548.20 168.80L538.80 168.80Z" fill="#1414f0"/>
<path d="M554.60 160.80L559.30 168.80L549.90 168.80Z" fill="#3a74b4"/>
<rect x="598.20" y="37.20" width="7.6" height="7.6" fill="#f0c0c8"/>
<rect x="604.20" y="40.70" width="7.6" height="7.6" fill="#f2b8e2"/>
<rect x="612.90" y="41.20" width="7.6" height="7.6" fill="#e89098"/>
<rect x="609.80" y="49.40" width="7.6" height="7.6" fill="#f070c8"/>
<rect x="596.40" y="57.10" width="7.6" height="7.6" fill="#f040b8"/>
<rect x="596.70" y="65.50" width="7.6" height="7.6" fill="#f02080"/>
<rect x="599.80" y="77.50" width="7.6" height="7.6" fill="#f01010"/>
<rect x="535.6" y="4.4" width="137.69999999999993" height="165.79999999999998" fill="none" stroke="#5a5a5a" stroke-width="1.25"/>
<path d="M535.60 166.16h3M535.60 145.94h3M535.60 125.72h3M535.60 105.50h3M535.60 85.28h3M535.60 65.06h3M535.60 44.84h3M535.60 24.62h3M535.60 4.40h3M535.60 156.05h1.6M535.60 135.83h1.6M535.60 115.61h1.6M535.60 95.39h1.6M535.60 75.17h1.6M535.60 54.95h1.6M535.60 34.73h1.6M535.60 14.51h1.6" stroke="#5a5a5a" stroke-width="0.9" fill="none"/>
<path d="M535.60 170.20v-3M570.02 170.20v-3M604.45 170.20v-3M638.88 170.20v-3M673.30 170.20v-3M552.81 170.20v-1.6M587.24 170.20v-1.6M621.66 170.20v-1.6M656.09 170.20v-1.6" stroke="#5a5a5a" stroke-width="0.9" fill="none"/>
<text x="532.40" y="169.46" font-size="9" text-anchor="end" fill="#111">0</text>
<text x="532.40" y="149.24" font-size="9" text-anchor="end" fill="#111">0.5</text>
<text x="532.40" y="129.02" font-size="9" text-anchor="end" fill="#111">1</text>
<text x="532.40" y="108.80" font-size="9" text-anchor="end" fill="#111">1.5</text>
<text x="532.40" y="88.58" font-size="9" text-anchor="end" fill="#111">2</text>
<text x="532.40" y="68.36" font-size="9" text-anchor="end" fill="#111">2.5</text>
<text x="532.40" y="48.14" font-size="9" text-anchor="end" fill="#111">3</text>
<text x="532.40" y="27.92" font-size="9" text-anchor="end" fill="#111">3.5</text>
<text x="532.40" y="7.70" font-size="9" text-anchor="end" fill="#111">4</text>
<text x="535.60" y="179.80" font-size="9" text-anchor="middle" fill="#111">-1.5</text>
<text x="570.02" y="179.80" font-size="9" text-anchor="middle" fill="#111">-1</text>
<text x="604.45" y="179.80" font-size="9" text-anchor="middle" fill="#111">-0.5</text>
<text x="638.88" y="179.80" font-size="9" text-anchor="middle" fill="#111">0</text>
<text x="673.30" y="179.80" font-size="9" text-anchor="middle" fill="#111">0.5</text>
<text x="516.30" y="87.00" font-size="12.6" text-anchor="middle" fill="#111" transform="rotate(-90 516.30 87.00)">Threshold Current (μA)</text>
<text x="605.00" y="196.60" font-size="12.6" text-anchor="middle" fill="#111">Threshold Voltage(V)</text>
<text x="514.20" y="197.00" font-size="11.4" text-anchor="start" fill="#111">(c)</text>
<path d="M601.60 137.20L606.40 145.80L596.80 145.80Z" fill="#1414f0"/>
<rect x="597.80" y="150.30" width="7.4" height="7.4" fill="#f040b0"/>
<text x="614.50" y="145.80" font-size="8.95" text-anchor="start" fill="#111">Top Gate</text>
<text x="614.50" y="156.60" font-size="8.7" text-anchor="start" fill="#111">Back Gate</text>
<rect x="38.4" y="218.9" width="202.4" height="89.29999999999998" fill="#f5e6ea"/>
<rect x="38.4" y="308.2" width="202.4" height="74.0" fill="#dcf0f8"/>
<clipPath id="cd"><rect x="38.4" y="218.9" width="202.4" height="163.29999999999998"/></clipPath>
<g clip-path="url(#cd)">
<path d="M38.40 357.36 L41.18 357.85 L44.97 358.55 L49.49 359.38 L54.47 360.28 L59.62 361.20 L64.70 362.07 L69.41 362.83 L73.48 363.42 L76.85 363.86 L79.75 364.20 L82.35 364.46 L84.83 364.66 L87.36 364.81 L90.13 364.94 L93.32 365.05 L97.10 365.17 L101.61 365.27 L106.76 365.34 L112.33 365.38 L118.14 365.40 L123.97 365.41 L129.62 365.41 L134.90 365.40 L139.60 365.40 L143.81 365.41 L147.75 365.42 L151.45 365.43 L154.91 365.43 L158.14 365.42 L161.15 365.40 L163.97 365.35 L166.59 365.29 L168.91 365.20 L170.86 365.10 L172.55 364.98 L174.05 364.85 L175.46 364.70 L176.88 364.53 L178.39 364.33 L180.08 364.12 L181.90 363.86 L183.75 363.56 L185.63 363.22 L187.54 362.87 L189.49 362.52 L191.48 362.19 L193.51 361.90 L195.60 361.67 L197.69 361.50 L199.76 361.37 L201.85 361.27 L203.99 361.20 L206.22 361.14 L208.58 361.09 L211.10 361.04 L213.81 360.97 L216.95 360.90 L220.58 360.83 L224.48 360.76 L228.45 360.69 L232.27 360.63 L235.75 360.58 L238.66 360.54 L240.80 360.50" fill="none" stroke="#e85858" stroke-width="1.0" stroke-linejoin="round"/>
<path d="M38.40 360.39 L41.06 360.53 L44.67 360.71 L48.96 360.92 L53.71 361.16 L58.64 361.43 L63.53 361.72 L68.11 362.04 L72.13 362.37 L75.69 362.73 L79.05 363.13 L82.26 363.55 L85.33 363.99 L88.32 364.45 L91.25 364.92 L94.16 365.39 L97.10 365.87 L100.07 366.34 L103.06 366.82 L106.03 367.31 L108.94 367.80 L111.77 368.31 L114.47 368.84 L117.02 369.38 L119.36 369.95 L121.49 370.55 L123.43 371.17 L125.21 371.81 L126.87 372.47 L128.43 373.14 L129.92 373.82 L131.39 374.51 L132.85 375.20 L134.32 375.93 L135.75 376.71 L137.13 377.53 L138.46 378.34 L139.72 379.12 L140.90 379.85 L141.99 380.50 L142.97 381.03 L143.82 381.52 L144.52 381.99 L145.11 382.42 L145.63 382.78 L146.11 383.03 L146.59 383.14 L147.11 383.07 L147.70 382.78 L148.31 382.24 L148.90 381.44 L149.49 380.45 L150.09 379.33 L150.73 378.12 L151.43 376.90 L152.21 375.71 L153.09 374.62 L154.09 373.55 L155.19 372.44 L156.37 371.30 L157.61 370.17 L158.88 369.08 L160.16 368.06 L161.43 367.13 L162.67 366.34 L163.80 365.68 L164.81 365.13 L165.77 364.67 L166.76 364.29 L167.85 363.96 L169.13 363.65 L170.66 363.37 L172.52 363.07 L174.62 362.78 L176.84 362.53 L179.24 362.31 L181.85 362.11 L184.74 361.93 L187.96 361.76 L191.56 361.60 L195.60 361.44 L200.50 361.28 L206.40 361.13 L212.91 361.00 L219.64 360.87 L226.19 360.76 L232.16 360.66 L237.16 360.57 L240.80 360.50" fill="none" stroke="#e85858" stroke-width="1.0" stroke-linejoin="round"/>
<path d="M38.40 363.07 L41.06 363.15 L44.67 363.25 L48.96 363.37 L53.71 363.50 L58.64 363.65 L63.53 363.80 L68.11 363.96 L72.13 364.12 L75.55 364.30 L78.58 364.50 L81.37 364.71 L84.07 364.93 L86.84 365.14 L89.83 365.34 L93.20 365.51 L97.10 365.64 L101.63 365.73 L106.69 365.80 L112.14 365.84 L117.80 365.86 L123.53 365.87 L129.18 365.87 L134.59 365.87 L139.60 365.87 L144.24 365.87 L148.65 365.87 L152.89 365.87 L157.01 365.86 L161.07 365.84 L165.11 365.80 L169.18 365.73 L173.33 365.64 L177.55 365.51 L181.77 365.34 L185.98 365.14 L190.20 364.93 L194.42 364.71 L198.63 364.50 L202.85 364.30 L207.07 364.12 L211.51 363.96 L216.29 363.80 L221.20 363.65 L226.04 363.50 L230.62 363.37 L234.74 363.25 L238.20 363.15 L240.80 363.07" fill="none" stroke="#e85858" stroke-width="1.0" stroke-dasharray="1.7 2.0" stroke-linejoin="round"/>
<path d="M38.40 365.17 L41.06 365.20 L44.67 365.23 L48.96 365.28 L53.71 365.32 L58.64 365.37 L63.53 365.42 L68.11 365.47 L72.13 365.52 L75.55 365.56 L78.58 365.61 L81.37 365.66 L84.07 365.70 L86.84 365.75 L89.83 365.79 L93.20 365.83 L97.10 365.87 L101.63 365.91 L106.69 365.94 L112.14 365.98 L117.80 366.01 L123.53 366.04 L129.18 366.06 L134.59 366.09 L139.60 366.10 L144.24 366.12 L148.65 366.14 L152.89 366.16 L157.01 366.17 L161.07 366.17 L165.11 366.17 L169.18 366.14 L173.33 366.10 L177.55 366.04 L181.77 365.95 L185.98 365.85 L190.20 365.73 L194.42 365.61 L198.63 365.49 L202.85 365.38 L207.07 365.29 L211.51 365.20 L216.29 365.11 L221.20 365.03 L226.04 364.94 L230.62 364.87 L234.74 364.80 L238.20 364.75 L240.80 364.70" fill="none" stroke="#e85858" stroke-width="1.0" stroke-linejoin="round"/>
<path d="M38.40 365.17 L41.06 365.20 L44.67 365.23 L48.96 365.27 L53.71 365.31 L58.64 365.36 L63.53 365.41 L68.11 365.46 L72.13 365.52 L75.55 365.58 L78.58 365.66 L81.37 365.74 L84.07 365.82 L86.84 365.90 L89.83 365.98 L93.20 366.05 L97.10 366.10 L101.63 366.15 L106.69 366.19 L112.14 366.23 L117.80 366.26 L123.53 366.29 L129.18 366.31 L134.59 366.33 L139.60 366.34 L144.24 366.34 L148.65 366.34 L152.89 366.34 L157.01 366.33 L161.07 366.31 L165.11 366.29 L169.18 366.26 L173.33 366.22 L177.55 366.17 L181.77 366.10 L185.98 366.03 L190.20 365.94 L194.42 365.86 L198.63 365.78 L202.85 365.70 L207.07 365.64 L211.51 365.58 L216.29 365.52 L221.20 365.47 L226.04 365.43 L230.62 365.38 L234.74 365.34 L238.20 365.31 L240.80 365.29" fill="none" stroke="#e85858" stroke-width="1.0" stroke-dasharray="1.7 2.0" stroke-linejoin="round"/>
<path d="M38.40 367.04 L40.45 367.07 L43.14 367.09 L46.34 367.11 L49.91 367.15 L53.73 367.20 L57.68 367.30 L61.60 367.43 L65.39 367.62 L69.19 367.87 L73.20 368.18 L77.35 368.54 L81.54 368.93 L85.69 369.34 L89.72 369.75 L93.55 370.16 L97.10 370.54 L100.34 370.90 L103.37 371.28 L106.23 371.65 L108.94 372.03 L111.57 372.40 L114.16 372.76 L116.74 373.12 L119.36 373.45 L122.01 373.81 L124.64 374.20 L127.25 374.60 L129.82 374.98 L132.35 375.32 L134.82 375.58 L137.25 375.75 L139.60 375.78 L141.87 375.67 L144.05 375.41 L146.17 375.05 L148.24 374.62 L150.29 374.15 L152.33 373.68 L154.38 373.24 L156.47 372.87 L158.46 372.55 L160.29 372.23 L162.05 371.93 L163.85 371.63 L165.77 371.34 L167.93 371.06 L170.42 370.80 L173.33 370.54 L176.74 370.28 L180.58 370.04 L184.75 369.80 L189.15 369.57 L193.68 369.35 L198.24 369.14 L202.73 368.96 L207.07 368.79 L211.51 368.63 L216.29 368.50 L221.20 368.38 L226.04 368.27 L230.62 368.17 L234.74 368.09 L238.20 368.03 L240.80 367.97" fill="none" stroke="#e85858" stroke-width="1.0" stroke-linejoin="round"/>
<path d="M38.40 370.42 L41.15 370.42 L44.98 370.41 L49.56 370.40 L54.55 370.40 L59.63 370.39 L64.47 370.39 L68.75 370.40 L72.13 370.42 L74.62 370.42 L76.52 370.40 L77.98 370.37 L79.13 370.35 L80.13 370.37 L81.11 370.43 L82.22 370.56 L83.60 370.77 L85.13 371.09 L86.63 371.51 L88.13 372.00 L89.67 372.53 L91.30 373.09 L93.06 373.64 L94.98 374.16 L97.10 374.62 L99.47 375.02 L102.09 375.40 L104.89 375.75 L107.81 376.10 L110.77 376.44 L113.73 376.79 L116.61 377.15 L119.36 377.53 L122.06 377.96 L124.80 378.41 L127.54 378.88 L130.24 379.36 L132.84 379.82 L135.30 380.27 L137.57 380.68 L139.60 381.03 L141.35 381.38 L142.84 381.76 L144.14 382.13 L145.29 382.46 L146.37 382.72 L147.43 382.88 L148.52 382.91 L149.72 382.78 L150.92 382.45 L152.01 381.94 L153.07 381.28 L154.15 380.52 L155.30 379.72 L156.60 378.93 L158.09 378.18 L159.84 377.53 L161.84 376.96 L164.03 376.39 L166.39 375.84 L168.91 375.31 L171.55 374.80 L174.31 374.32 L177.16 373.87 L180.08 373.45 L183.08 373.07 L186.19 372.73 L189.41 372.41 L192.73 372.12 L196.16 371.86 L199.69 371.60 L203.32 371.36 L207.07 371.12 L211.19 370.88 L215.82 370.65 L220.70 370.42 L225.62 370.21 L230.32 370.02 L234.58 369.86 L238.15 369.71 L240.80 369.60" fill="none" stroke="#e85858" stroke-width="1.0" stroke-linejoin="round"/>
<path d="M38.40 373.10 L41.12 373.11 L44.87 373.11 L49.35 373.12 L54.25 373.13 L59.29 373.14 L64.14 373.16 L68.53 373.19 L72.13 373.22 L75.05 373.25 L77.59 373.27 L79.82 373.30 L81.79 373.33 L83.57 373.38 L85.21 373.45 L86.78 373.55 L88.33 373.69 L89.59 373.86 L90.41 374.08 L90.97 374.32 L91.49 374.58 L92.16 374.87 L93.18 375.16 L94.76 375.47 L97.10 375.78 L100.38 376.11 L104.50 376.47 L109.21 376.84 L114.26 377.23 L119.39 377.61 L124.37 377.99 L128.94 378.36 L132.85 378.70 L136.13 379.06 L139.00 379.48 L141.58 379.90 L143.94 380.30 L146.19 380.65 L148.40 380.92 L150.67 381.05 L153.09 381.03 L155.53 380.83 L157.84 380.45 L160.09 379.95 L162.37 379.36 L164.76 378.72 L167.32 378.08 L170.16 377.48 L173.33 376.95 L176.90 376.47 L180.82 375.99 L185.00 375.50 L189.36 375.03 L193.82 374.58 L198.32 374.17 L202.76 373.78 L207.07 373.45 L211.51 373.17 L216.29 372.92 L221.20 372.71 L226.04 372.53 L230.62 372.38 L234.74 372.25 L238.20 372.15 L240.80 372.05" fill="none" stroke="#e85858" stroke-width="1.0" stroke-dasharray="1.7 2.0" stroke-linejoin="round"/>
<path d="M38.40 376.13 L41.06 376.15 L44.67 376.15 L48.96 376.16 L53.71 376.18 L58.64 376.20 L63.53 376.24 L68.11 376.29 L72.13 376.37 L75.65 376.47 L78.90 376.59 L81.96 376.74 L84.91 376.89 L87.82 377.06 L90.78 377.22 L93.84 377.38 L97.10 377.53 L100.59 377.68 L104.27 377.81 L108.06 377.95 L111.90 378.08 L115.69 378.22 L119.38 378.37 L122.87 378.53 L126.11 378.70 L129.01 378.92 L131.63 379.18 L134.04 379.47 L136.35 379.76 L138.65 380.02 L141.02 380.25 L143.55 380.40 L146.35 380.45 L149.35 380.40 L152.46 380.27 L155.68 380.08 L159.00 379.83 L162.42 379.55 L165.95 379.26 L169.59 378.97 L173.33 378.70 L177.23 378.44 L181.29 378.16 L185.49 377.87 L189.78 377.57 L194.12 377.27 L198.48 376.96 L202.80 376.66 L207.07 376.37 L211.51 376.06 L216.29 375.73 L221.20 375.39 L226.04 375.06 L230.62 374.74 L234.74 374.45 L238.20 374.21 L240.80 374.04" fill="none" stroke="#e85858" stroke-width="1.0" stroke-dasharray="1.7 2.0" stroke-linejoin="round"/>
<path d="M38.40 376.13 L41.06 376.15 L44.67 376.17 L48.96 376.19 L53.71 376.21 L58.64 376.24 L63.53 376.28 L68.11 376.32 L72.13 376.37 L75.65 376.41 L78.90 376.45 L81.96 376.48 L84.91 376.53 L87.82 376.59 L90.78 376.67 L93.84 376.79 L97.10 376.95 L100.61 377.15 L104.35 377.40 L108.21 377.67 L112.11 377.97 L115.94 378.29 L119.61 378.62 L123.03 378.95 L126.11 379.28 L128.80 379.66 L131.18 380.09 L133.32 380.57 L135.30 381.03 L137.18 381.47 L139.04 381.83 L140.95 382.08 L142.97 382.20 L145.01 382.16 L146.95 381.99 L148.85 381.71 L150.77 381.36 L152.77 380.97 L154.91 380.57 L157.25 380.19 L159.84 379.87 L162.73 379.57 L165.88 379.26 L169.22 378.94 L172.70 378.63 L176.26 378.32 L179.84 378.04 L183.38 377.77 L186.83 377.53 L190.20 377.33 L193.57 377.14 L196.95 376.98 L200.32 376.83 L203.69 376.69 L207.07 376.57 L210.44 376.47 L213.81 376.37 L217.37 376.28 L221.19 376.21 L225.12 376.16 L228.99 376.12 L232.66 376.09 L235.95 376.06 L238.72 376.04 L240.80 376.02" fill="none" stroke="#e85858" stroke-width="1.0" stroke-linejoin="round"/>
<path d="M38.40 378.35 L41.06 378.35 L44.67 378.35 L48.96 378.35 L53.71 378.34 L58.64 378.34 L63.53 378.34 L68.11 378.35 L72.13 378.35 L75.55 378.36 L78.58 378.36 L81.37 378.37 L84.07 378.38 L86.84 378.39 L89.83 378.41 L93.20 378.44 L97.10 378.47 L101.63 378.51 L106.69 378.55 L112.14 378.61 L117.80 378.66 L123.53 378.73 L129.18 378.79 L134.59 378.86 L139.60 378.93 L144.33 379.03 L148.97 379.17 L153.49 379.33 L157.86 379.48 L162.06 379.61 L166.05 379.69 L169.82 379.71 L173.33 379.63 L176.51 379.45 L179.34 379.17 L181.91 378.81 L184.30 378.41 L186.58 377.99 L188.83 377.59 L191.14 377.24 L193.57 376.95 L196.06 376.73 L198.48 376.54 L200.87 376.38 L203.27 376.24 L205.73 376.11 L208.28 376.00 L210.96 375.89 L213.81 375.78 L217.05 375.68 L220.72 375.58 L224.63 375.50 L228.57 375.42 L232.36 375.35 L235.79 375.29 L238.67 375.24 L240.80 375.20" fill="none" stroke="#e85858" stroke-width="1.0" stroke-dasharray="1.7 2.0" stroke-linejoin="round"/>
<path d="M38.40 364.70 L42.25 364.74 L47.60 364.78 L53.99 364.83 L60.96 364.89 L68.06 364.96 L74.85 365.05 L80.85 365.15 L85.63 365.29 L89.19 365.42 L91.98 365.55 L94.18 365.68 L95.96 365.83 L97.50 366.03 L98.99 366.28 L100.59 366.61 L102.49 367.04 L104.62 367.57 L106.79 368.21 L108.97 368.92 L111.14 369.70 L113.28 370.50 L115.38 371.31 L117.41 372.11 L119.36 372.87 L121.23 373.61 L123.05 374.35 L124.82 375.11 L126.53 375.86 L128.19 376.60 L129.80 377.32 L131.35 378.03 L132.85 378.70 L134.35 379.37 L135.86 380.06 L137.34 380.74 L138.76 381.40 L140.07 382.01 L141.23 382.56 L142.22 383.01 L142.97 383.37" fill="none" stroke="#e85858" stroke-width="1.0" stroke-linejoin="round"/>
<path d="M85.63 371.70 L87.19 371.92 L89.26 372.21 L91.73 372.56 L94.48 372.94 L97.39 373.35 L100.33 373.78 L103.20 374.21 L105.87 374.62 L108.42 375.04 L111.01 375.49 L113.60 375.96 L116.20 376.44 L118.76 376.91 L121.28 377.35 L123.74 377.76 L126.11 378.12 L128.40 378.45 L130.64 378.77 L132.83 379.08 L134.96 379.36 L137.04 379.59 L139.07 379.76 L141.05 379.86 L142.97 379.87 L144.80 379.77 L146.50 379.58 L148.13 379.32 L149.72 378.99 L151.31 378.63 L152.94 378.25 L154.64 377.88 L156.47 377.53 L158.39 377.19 L160.37 376.83 L162.40 376.46 L164.48 376.08 L166.61 375.69 L168.80 375.32 L171.04 374.96 L173.33 374.62 L175.66 374.29 L178.00 373.98 L180.38 373.68 L182.82 373.38 L185.34 373.09 L187.96 372.81 L190.70 372.55 L193.57 372.29 L196.67 372.03 L200.00 371.78 L203.50 371.54 L207.07 371.30 L210.64 371.08 L214.13 370.88 L217.46 370.69 L220.56 370.54 L223.55 370.40 L226.57 370.29 L229.53 370.21 L232.37 370.13 L234.99 370.08 L237.32 370.03 L239.28 369.99 L240.80 369.95" fill="none" stroke="#e85858" stroke-width="1.0" stroke-dasharray="1.7 2.0" stroke-linejoin="round"/>
<path d="M38.40 316.06 L39.08 316.17 L40.00 316.32 L41.09 316.50 L42.30 316.70 L43.57 316.89 L44.84 317.08 L46.06 317.23 L47.17 317.35 L48.18 317.43 L49.17 317.50 L50.12 317.56 L51.07 317.59 L52.01 317.61 L52.97 317.59 L53.93 317.55 L54.93 317.46 L55.96 317.34 L57.03 317.18 L58.12 317.00 L59.21 316.78 L60.29 316.54 L61.36 316.28 L62.38 316.00 L63.36 315.71 L64.30 315.40 L65.21 315.06 L66.10 314.70 L66.96 314.31 L67.79 313.93 L68.60 313.54 L69.37 313.16 L70.11 312.80 L70.80 312.47 L71.45 312.18 L72.05 311.90 L72.63 311.62 L73.20 311.32 L73.77 310.98 L74.35 310.58 L74.97 310.11 L75.61 309.57 L76.27 308.96 L76.95 308.29 L77.62 307.59 L78.30 306.86 L78.96 306.12 L79.61 305.37 L80.23 304.63 L80.79 303.94 L81.28 303.31 L81.73 302.69 L82.18 302.04 L82.67 301.34 L83.22 300.53 L83.88 299.58 L84.68 298.45 L85.64 297.10 L86.73 295.54 L87.92 293.83 L89.18 292.02 L90.48 290.17 L91.80 288.34 L93.09 286.57 L94.33 284.92 L95.54 283.37 L96.74 281.86 L97.95 280.38 L99.16 278.93 L100.37 277.50 L101.58 276.11 L102.78 274.73 L103.98 273.37 L105.21 272.00 L106.48 270.61 L107.77 269.23 L109.04 267.88 L110.28 266.58 L111.45 265.38 L112.53 264.29 L113.49 263.34 L114.31 262.56 L115.02 261.94 L115.64 261.44 L116.19 261.02 L116.70 260.65 L117.19 260.30 L117.68 259.93 L118.21 259.49 L118.75 259.01 L119.27 258.53 L119.78 258.05 L120.28 257.57 L120.78 257.09 L121.28 256.63 L121.80 256.19 L122.33 255.76 L122.88 255.36 L123.44 254.97 L124.01 254.61 L124.59 254.25 L125.17 253.90 L125.75 253.55 L126.34 253.20 L126.92 252.84 L127.49 252.48 L128.06 252.11 L128.63 251.73 L129.20 251.36 L129.77 250.99 L130.36 250.63 L130.96 250.27 L131.57 249.93 L132.21 249.58 L132.86 249.24 L133.53 248.91 L134.20 248.58 L134.88 248.26 L135.56 247.94 L136.24 247.65 L136.90 247.36 L137.56 247.09 L138.21 246.85 L138.85 246.61 L139.50 246.39 L140.14 246.17 L140.79 245.95 L141.44 245.73 L142.10 245.49 L142.71 245.26 L143.26 245.03 L143.79 244.81 L144.33 244.58 L144.92 244.35 L145.61 244.09 L146.43 243.82 L147.43 243.51 L148.60 243.16 L149.92 242.77 L151.37 242.35 L152.92 241.92 L154.53 241.49 L156.20 241.08 L157.89 240.70 L159.57 240.36 L161.28 240.07 L163.06 239.81 L164.88 239.58 L166.74 239.36 L168.62 239.16 L170.50 238.98 L172.37 238.79 L174.21 238.61 L175.98 238.44 L177.69 238.28 L179.36 238.14 L181.04 238.00 L182.78 237.87 L184.62 237.73 L186.61 237.59 L188.78 237.45 L191.12 237.29 L193.56 237.12 L196.11 236.95 L198.78 236.78 L201.57 236.61 L204.48 236.45 L207.53 236.30 L210.71 236.16 L214.29 236.04 L218.36 235.93 L222.72 235.83 L227.13 235.73 L231.36 235.65 L235.20 235.58 L238.42 235.51 L240.80 235.46" fill="none" stroke="#2525d0" stroke-width="1.4" stroke-dasharray="3.2 2.2" stroke-linejoin="round"/>
<path d="M38.40 318.28 L38.65 318.50 L38.97 318.79 L39.36 319.14 L39.79 319.53 L40.26 319.94 L40.76 320.35 L41.26 320.73 L41.77 321.08 L42.31 321.43 L42.89 321.82 L43.50 322.21 L44.13 322.60 L44.76 322.93 L45.38 323.20 L45.96 323.37 L46.50 323.41 L46.98 323.32 L47.43 323.12 L47.86 322.83 L48.27 322.46 L48.66 322.04 L49.06 321.58 L49.46 321.10 L49.87 320.61 L50.29 320.11 L50.70 319.58 L51.10 319.02 L51.51 318.42 L51.93 317.79 L52.35 317.13 L52.79 316.44 L53.24 315.71 L53.68 315.01 L54.09 314.36 L54.49 313.70 L54.91 312.99 L55.38 312.20 L55.91 311.27 L56.54 310.16 L57.29 308.83 L58.18 307.23 L59.20 305.38 L60.32 303.35 L61.51 301.18 L62.74 298.95 L63.97 296.70 L65.18 294.49 L66.33 292.38 L67.46 290.33 L68.60 288.24 L69.74 286.14 L70.88 284.06 L72.00 282.01 L73.10 280.02 L74.16 278.10 L75.17 276.29 L76.14 274.57 L77.07 272.94 L77.97 271.38 L78.85 269.87 L79.69 268.42 L80.52 267.01 L81.33 265.63 L82.12 264.27 L82.89 262.94 L83.64 261.63 L84.37 260.35 L85.07 259.11 L85.76 257.92 L86.43 256.79 L87.08 255.72 L87.72 254.71 L88.34 253.77 L88.93 252.89 L89.51 252.08 L90.07 251.31 L90.62 250.60 L91.15 249.94 L91.66 249.33 L92.17 248.76 L92.66 248.25 L93.13 247.81 L93.58 247.42 L94.03 247.08 L94.46 246.78 L94.89 246.50 L95.32 246.23 L95.75 245.96 L96.16 245.71 L96.55 245.48 L96.92 245.28 L97.29 245.10 L97.68 244.93 L98.11 244.77 L98.58 244.61 L99.12 244.44 L99.74 244.28 L100.43 244.12 L101.18 243.96 L101.95 243.81 L102.74 243.67 L103.53 243.53 L104.28 243.40 L104.99 243.28 L105.58 243.17 L106.04 243.06 L106.44 242.97 L106.84 242.88 L107.33 242.79 L107.97 242.72 L108.83 242.65 L109.98 242.58 L111.45 242.52 L113.17 242.46 L115.09 242.41 L117.18 242.37 L119.37 242.33 L121.62 242.29 L123.88 242.26 L126.11 242.23 L128.27 242.21 L130.41 242.19 L132.57 242.18 L134.79 242.18 L137.10 242.17 L139.55 242.16 L142.17 242.14 L145.00 242.11 L148.14 242.07 L151.61 242.01 L155.29 241.95 L159.08 241.89 L162.89 241.82 L166.60 241.75 L170.11 241.69 L173.33 241.65 L176.25 241.60 L178.96 241.57 L181.52 241.54 L183.96 241.51 L186.34 241.48 L188.70 241.46 L191.10 241.43 L193.57 241.41 L196.06 241.39 L198.48 241.38 L200.87 241.36 L203.27 241.35 L205.73 241.34 L208.28 241.33 L210.96 241.31 L213.81 241.30 L217.05 241.27 L220.72 241.24 L224.63 241.21 L228.57 241.17 L232.36 241.14 L235.79 241.11 L238.67 241.08 L240.80 241.06" fill="none" stroke="#2525d0" stroke-width="1.4" stroke-linejoin="round"/>
</g>
<rect x="38.4" y="218.9" width="202.4" height="163.29999999999998" fill="none" stroke="#5a5a5a" stroke-width="1.25"/>
<path d="M38.40 382.20h3M38.40 370.54h3M38.40 358.87h3M38.40 347.21h3M38.40 335.54h3M38.40 323.88h3M38.40 312.21h3M38.40 300.55h3M38.40 288.89h3M38.40 277.22h3M38.40 265.56h3M38.40 253.89h3M38.40 242.23h3M38.40 230.56h3M38.40 218.90h3M38.40 378.69h1.6M38.40 376.63h1.6M38.40 375.18h1.6M38.40 374.05h1.6M38.40 373.12h1.6M38.40 372.34h1.6M38.40 371.67h1.6M38.40 371.07h1.6M38.40 367.02h1.6M38.40 364.97h1.6M38.40 363.51h1.6M38.40 362.38h1.6M38.40 361.46h1.6M38.40 360.68h1.6M38.40 360.00h1.6M38.40 359.41h1.6M38.40 355.36h1.6M38.40 353.31h1.6M38.40 351.85h1.6M38.40 350.72h1.6M38.40 349.79h1.6M38.40 349.01h1.6M38.40 348.34h1.6M38.40 347.74h1.6M38.40 343.70h1.6M38.40 341.64h1.6M38.40 340.18h1.6M38.40 339.05h1.6M38.40 338.13h1.6M38.40 337.35h1.6M38.40 336.67h1.6M38.40 336.08h1.6M38.40 332.03h1.6M38.40 329.98h1.6M38.40 328.52h1.6M38.40 327.39h1.6M38.40 326.47h1.6M38.40 325.69h1.6M38.40 325.01h1.6M38.40 324.41h1.6M38.40 320.37h1.6M38.40 318.31h1.6M38.40 316.86h1.6M38.40 315.73h1.6M38.40 314.80h1.6M38.40 314.02h1.6M38.40 313.34h1.6M38.40 312.75h1.6M38.40 308.70h1.6M38.40 306.65h1.6M38.40 305.19h1.6M38.40 304.06h1.6M38.40 303.14h1.6M38.40 302.36h1.6M38.40 301.68h1.6M38.40 301.08h1.6M38.40 297.04h1.6M38.40 294.98h1.6M38.40 293.53h1.6M38.40 292.40h1.6M38.40 291.47h1.6M38.40 290.69h1.6M38.40 290.02h1.6M38.40 289.42h1.6M38.40 285.37h1.6M38.40 283.32h1.6M38.40 281.86h1.6M38.40 280.73h1.6M38.40 279.81h1.6M38.40 279.03h1.6M38.40 278.35h1.6M38.40 277.76h1.6M38.40 273.71h1.6M38.40 271.66h1.6M38.40 270.20h1.6M38.40 269.07h1.6M38.40 268.14h1.6M38.40 267.36h1.6M38.40 266.69h1.6M38.40 266.09h1.6M38.40 262.05h1.6M38.40 259.99h1.6M38.40 258.53h1.6M38.40 257.40h1.6M38.40 256.48h1.6M38.40 255.70h1.6M38.40 255.02h1.6M38.40 254.43h1.6M38.40 250.38h1.6M38.40 248.33h1.6M38.40 246.87h1.6M38.40 245.74h1.6M38.40 244.82h1.6M38.40 244.04h1.6M38.40 243.36h1.6M38.40 242.76h1.6M38.40 238.72h1.6M38.40 236.66h1.6M38.40 235.21h1.6M38.40 234.08h1.6M38.40 233.15h1.6M38.40 232.37h1.6M38.40 231.69h1.6M38.40 231.10h1.6M38.40 227.05h1.6M38.40 225.00h1.6M38.40 223.54h1.6M38.40 222.41h1.6M38.40 221.49h1.6M38.40 220.71h1.6M38.40 220.03h1.6M38.40 219.43h1.6" stroke="#5a5a5a" stroke-width="0.9" fill="none"/>
<path d="M38.40 382.20v-3M72.13 382.20v-3M105.87 382.20v-3M139.60 382.20v-3M173.33 382.20v-3M207.07 382.20v-3M240.80 382.20v-3M55.27 382.20v-1.6M89.00 382.20v-1.6M122.73 382.20v-1.6M156.47 382.20v-1.6M190.20 382.20v-1.6M223.93 382.20v-1.6" stroke="#5a5a5a" stroke-width="0.9" fill="none"/>
<text x="35.00" y="385.70" font-size="9" text-anchor="end" fill="#111">10<tspan font-size="6.12" dy="-2.79">-14</tspan></text>
<text x="35.00" y="362.37" font-size="9" text-anchor="end" fill="#111">10<tspan font-size="6.12" dy="-2.79">-12</tspan></text>
<text x="35.00" y="339.04" font-size="9" text-anchor="end" fill="#111">10<tspan font-size="6.12" dy="-2.79">-10</tspan></text>
<text x="35.00" y="315.71" font-size="9" text-anchor="end" fill="#111">10<tspan font-size="6.12" dy="-2.79">-8</tspan></text>
<text x="35.00" y="292.39" font-size="9" text-anchor="end" fill="#111">10<tspan font-size="6.12" dy="-2.79">-6</tspan></text>
<text x="35.00" y="269.06" font-size="9" text-anchor="end" fill="#111">10<tspan font-size="6.12" dy="-2.79">-4</tspan></text>
<text x="35.00" y="245.73" font-size="9" text-anchor="end" fill="#111">10<tspan font-size="6.12" dy="-2.79">-2</tspan></text>
<text x="35.00" y="222.40" font-size="9" text-anchor="end" fill="#111">10<tspan font-size="6.12" dy="-2.79">0</tspan></text>
<text x="38.40" y="392.80" font-size="9" text-anchor="middle" fill="#111">-2</text>
<text x="72.13" y="392.80" font-size="9" text-anchor="middle" fill="#111">-1.5</text>
<text x="105.87" y="392.80" font-size="9" text-anchor="middle" fill="#111">-1</text>
<text x="139.60" y="392.80" font-size="9" text-anchor="middle" fill="#111">-0.5</text>
<text x="173.33" y="392.80" font-size="9" text-anchor="middle" fill="#111">0</text>
<text x="207.07" y="392.80" font-size="9" text-anchor="middle" fill="#111">0.5</text>
<text x="240.80" y="392.80" font-size="9" text-anchor="middle" fill="#111">1</text>
<text x="12.30" y="310.40" font-size="12" text-anchor="middle" fill="#111" transform="rotate(-90 12.30 310.40)">Gate/Drain Current Density (A μm<tspan font-size="8.16" dy="-4.49">-1</tspan><tspan dy="4.49">)</tspan></text>
<text x="139.50" y="410.00" font-size="12" text-anchor="middle" fill="#111">Gate Voltage(V)</text>
<text x="19.60" y="409.80" font-size="11.4" text-anchor="start" fill="#111">(d)</text>
<text x="52.10" y="343.70" font-size="8.4" text-anchor="start" fill="#111"><tspan font-style="italic">T</tspan>=25°C, Vacuum</text>
<path d="M101.1 288.2H120.9" stroke="#2525d0" stroke-width="1.4"/>
<path d="M101.1 300.5H120.9" stroke="#2525d0" stroke-width="1.4" stroke-dasharray="3.2 2.2"/>
<text x="123.60" y="291.60" font-size="8.5" text-anchor="start" fill="#111">Top Gate (<tspan font-style="italic">L</tspan> ×<tspan font-style="italic">W</tspan> = 4×14 μm)</text>
<text x="123.60" y="304.20" font-size="8.5" text-anchor="start" fill="#111">Back Gate (<tspan font-style="italic">L</tspan> ×<tspan font-style="italic">W</tspan> = 5×17 μm)</text>
<text x="97.20" y="255.70" font-size="10.2" text-anchor="start" fill="#2525d0"><tspan font-style="italic" font-weight="bold">I</tspan><tspan font-size="7.6" font-weight="bold" dy="2.2">D</tspan></text>
<text x="204.00" y="355.40" font-size="10.6" text-anchor="start" fill="#c42424"><tspan font-style="italic" font-weight="bold">I</tspan><tspan font-size="7.8" font-weight="bold" dy="2.2">G</tspan></text>
<clipPath id="ce"><rect x="282.7" y="220.0" width="154.10000000000002" height="162.39999999999998"/></clipPath>
<g clip-path="url(#ce)">
<path d="M286.94 385.00 L287.08 383.98 L287.27 382.50 L287.50 380.97 L287.71 379.80 L287.90 379.06 L288.08 378.54 L288.27 378.25 L288.48 378.18 L288.71 378.38 L288.95 378.85 L289.20 379.46 L289.48 380.13 L289.79 380.98 L290.13 382.01 L290.47 382.92 L290.79 383.37 L291.09 383.20 L291.38 382.60 L291.67 381.82 L291.95 381.10 L292.22 380.38 L292.49 379.58 L292.76 378.89 L293.02 378.50 L293.30 378.48 L293.58 378.71 L293.86 379.16 L294.10 379.80 L294.24 380.82 L294.31 382.16 L294.46 383.46 L294.87 384.35 L295.72 384.76 L296.86 384.88 L298.01 384.73 L298.88 384.35 L299.33 383.61 L299.54 382.53 L299.66 381.39 L299.88 380.45 L300.22 379.75 L300.59 379.15 L300.99 378.68 L301.42 378.34 L301.92 378.14 L302.48 378.08 L303.02 378.14 L303.50 378.34 L303.89 378.67 L304.23 379.13 L304.53 379.73 L304.81 380.45 L305.11 381.46 L305.40 382.69 L305.64 383.87 L305.81 384.67" fill="none" stroke="#2d2dd8" stroke-width="1.2" stroke-linejoin="round"/>
<path d="M282.70 376.55 L283.27 376.76 L284.10 377.06 L284.99 377.43 L285.78 377.85 L286.41 378.35 L286.99 378.93 L287.53 379.54 L288.09 380.13 L288.67 380.76 L289.25 381.43 L289.83 382.01 L290.40 382.40 L290.96 382.55 L291.51 382.52 L292.08 382.35 L292.72 382.08 L293.43 381.64 L294.21 381.04 L295.01 380.39 L295.80 379.80 L296.58 379.27 L297.36 378.75 L298.14 378.26 L298.88 377.85 L299.59 377.51 L300.28 377.22 L300.94 377.01 L301.58 376.88 L302.19 376.81 L302.78 376.80 L303.35 376.91 L303.89 377.20 L304.41 377.71 L304.90 378.38 L305.37 379.20 L305.81 380.13 L306.26 381.32 L306.71 382.75 L307.09 384.08 L307.36 385.00" fill="none" stroke="#e8307a" stroke-width="1.2" stroke-dasharray="2.6 1.8" stroke-linejoin="round"/>
<path d="M311.98 392.14 L312.03 391.61 L312.06 391.15 L312.09 390.63 L312.15 389.91 L312.26 388.86 L312.44 387.35 L312.72 385.24 L313.13 382.40 L313.69 378.70 L314.37 374.20 L315.16 369.07 L316.02 363.50 L316.93 357.65 L317.86 351.70 L318.79 345.82 L319.68 340.18 L320.60 334.47 L321.57 328.40 L322.58 322.16 L323.59 315.94 L324.57 309.92 L325.50 304.31 L326.35 299.28 L327.08 295.03 L327.68 291.65 L328.18 289.01 L328.60 286.95 L328.96 285.28 L329.29 283.87 L329.61 282.53 L329.94 281.11 L330.32 279.44 L330.71 277.59 L331.09 275.76 L331.47 273.94 L331.85 272.15 L332.24 270.40 L332.63 268.70 L333.04 267.05 L333.48 265.47 L333.92 263.96 L334.38 262.50 L334.84 261.10 L335.32 259.75 L335.81 258.44 L336.32 257.17 L336.85 255.95 L337.41 254.75 L337.98 253.59 L338.56 252.46 L339.17 251.37 L339.79 250.32 L340.43 249.31 L341.09 248.36 L341.78 247.47 L342.49 246.63 L343.22 245.87 L343.95 245.17 L344.70 244.54 L345.48 243.95 L346.29 243.41 L347.13 242.90 L348.02 242.40 L348.96 241.92 L349.96 241.47 L351.01 241.04 L352.10 240.65 L353.23 240.28 L354.39 239.94 L355.57 239.61 L356.77 239.30 L357.98 239.00 L359.20 238.72 L360.43 238.45 L361.69 238.20 L362.97 237.97 L364.27 237.75 L365.59 237.55 L366.94 237.38 L368.30 237.21 L369.66 237.08 L370.98 236.97 L372.31 236.88 L373.66 236.81 L375.08 236.75 L376.59 236.69 L378.23 236.63 L380.01 236.56 L381.98 236.50 L384.10 236.43 L386.34 236.37 L388.67 236.31 L391.07 236.25 L393.49 236.20 L395.90 236.14 L398.27 236.08 L400.63 236.01 L403.02 235.95 L405.43 235.88 L407.84 235.81 L410.27 235.75 L412.70 235.69 L415.12 235.64 L417.54 235.59 L420.08 235.55 L422.80 235.52 L425.61 235.50 L428.37 235.48 L430.99 235.46 L433.34 235.45 L435.31 235.44 L436.80 235.43" fill="none" stroke="#2d2dd8" stroke-width="1.35" stroke-linejoin="round"/>
<path d="M311.98 392.14 L312.03 391.61 L312.06 391.15 L312.09 390.63 L312.15 389.91 L312.26 388.86 L312.44 387.35 L312.72 385.24 L313.13 382.40 L313.69 378.70 L314.37 374.20 L315.16 369.07 L316.02 363.50 L316.93 357.65 L317.86 351.70 L318.79 345.82 L319.68 340.18 L320.60 334.47 L321.57 328.40 L322.58 322.16 L323.59 315.94 L324.57 309.92 L325.50 304.31 L326.35 299.28 L327.08 295.03 L327.68 291.65 L328.18 289.01 L328.60 286.95 L328.96 285.28 L329.29 283.87 L329.61 282.53 L329.94 281.11 L330.32 279.44 L330.71 277.59 L331.09 275.76 L331.47 273.94 L331.85 272.15 L332.24 270.40 L332.63 268.70 L333.04 267.05 L333.48 265.47 L333.92 263.96 L334.38 262.50 L334.84 261.10 L335.32 259.75 L335.81 258.44 L336.32 257.17 L336.85 255.95 L337.41 254.75 L337.98 253.59 L338.56 252.46 L339.17 251.37 L339.79 250.32 L340.43 249.31 L341.09 248.36 L341.78 247.47 L342.49 246.63 L343.22 245.87 L343.95 245.17 L344.70 244.54 L345.48 243.95 L346.29 243.41 L347.13 242.90 L348.02 242.40 L348.96 241.92 L349.96 241.47 L351.01 241.04 L352.10 240.65 L353.23 240.28 L354.39 239.94 L355.57 239.61 L356.77 239.30 L357.98 239.00 L359.20 238.72 L360.43 238.45 L361.69 238.20 L362.97 237.97 L364.27 237.75 L365.59 237.55 L366.94 237.38 L368.30 237.21 L369.66 237.08 L370.98 236.97 L372.31 236.88 L373.66 236.81 L375.08 236.75 L376.59 236.69 L378.23 236.63 L380.01 236.56 L381.98 236.50 L384.10 236.43 L386.34 236.37 L388.67 236.31 L391.07 236.25 L393.49 236.20 L395.90 236.14 L398.27 236.08 L400.63 236.01 L403.02 235.95 L405.43 235.88 L407.84 235.81 L410.27 235.75 L412.70 235.69 L415.12 235.64 L417.54 235.59 L420.08 235.55 L422.80 235.52 L425.61 235.50 L428.37 235.48 L430.99 235.46 L433.34 235.45 L435.31 235.44 L436.80 235.43" fill="none" stroke="#e8307a" stroke-width="1.35" stroke-dasharray="2.2 2.2" stroke-linejoin="round"/>
</g>
<path d="M282.7 265.0H436.8" stroke="#333" stroke-width="1.1" stroke-dasharray="2.6 1.8"/>
<rect x="282.7" y="220.0" width="154.10000000000002" height="162.39999999999998" fill="none" stroke="#5a5a5a" stroke-width="1.25"/>
<path d="M282.70 382.40h3M282.70 349.92h3M282.70 317.44h3M282.70 284.96h3M282.70 252.48h3M282.70 220.00h3M282.70 372.62h1.6M282.70 366.90h1.6M282.70 362.85h1.6M282.70 359.70h1.6M282.70 357.13h1.6M282.70 354.95h1.6M282.70 353.07h1.6M282.70 351.41h1.6M282.70 340.14h1.6M282.70 334.42h1.6M282.70 330.37h1.6M282.70 327.22h1.6M282.70 324.65h1.6M282.70 322.47h1.6M282.70 320.59h1.6M282.70 318.93h1.6M282.70 307.66h1.6M282.70 301.94h1.6M282.70 297.89h1.6M282.70 294.74h1.6M282.70 292.17h1.6M282.70 289.99h1.6M282.70 288.11h1.6M282.70 286.45h1.6M282.70 275.18h1.6M282.70 269.46h1.6M282.70 265.41h1.6M282.70 262.26h1.6M282.70 259.69h1.6M282.70 257.51h1.6M282.70 255.63h1.6M282.70 253.97h1.6M282.70 242.70h1.6M282.70 236.98h1.6M282.70 232.93h1.6M282.70 229.78h1.6M282.70 227.21h1.6M282.70 225.03h1.6M282.70 223.15h1.6M282.70 221.49h1.6" stroke="#5a5a5a" stroke-width="0.9" fill="none"/>
<path d="M282.70 382.40v-3M321.23 382.40v-3M359.75 382.40v-3M398.27 382.40v-3M436.80 382.40v-3M301.96 382.40v-1.6M340.49 382.40v-1.6M379.01 382.40v-1.6M417.54 382.40v-1.6" stroke="#5a5a5a" stroke-width="0.9" fill="none"/>
<text x="278.20" y="385.90" font-size="9" text-anchor="end" fill="#111">10<tspan font-size="6.12" dy="-2.79">-6</tspan></text>
<text x="278.20" y="353.42" font-size="9" text-anchor="end" fill="#111">10<tspan font-size="6.12" dy="-2.79">-5</tspan></text>
<text x="278.20" y="320.94" font-size="9" text-anchor="end" fill="#111">10<tspan font-size="6.12" dy="-2.79">-4</tspan></text>
<text x="278.20" y="288.46" font-size="9" text-anchor="end" fill="#111">10<tspan font-size="6.12" dy="-2.79">-3</tspan></text>
<text x="278.20" y="255.98" font-size="9" text-anchor="end" fill="#111">10<tspan font-size="6.12" dy="-2.79">-2</tspan></text>
<text x="278.20" y="223.50" font-size="9" text-anchor="end" fill="#111">10<tspan font-size="6.12" dy="-2.79">-1</tspan></text>
<text x="282.70" y="392.80" font-size="9" text-anchor="middle" fill="#111">-2</text>
<text x="321.23" y="392.80" font-size="9" text-anchor="middle" fill="#111">-1.5</text>
<text x="359.75" y="392.80" font-size="9" text-anchor="middle" fill="#111">-1</text>
<text x="398.27" y="392.80" font-size="9" text-anchor="middle" fill="#111">-0.5</text>
<text x="436.80" y="392.80" font-size="9" text-anchor="middle" fill="#111">0</text>
<text x="261.50" y="299.90" font-size="11.4" text-anchor="middle" fill="#111" transform="rotate(-90 261.50 299.90)">Drain Current (A)</text>
<text x="359.60" y="408.30" font-size="11.2" text-anchor="middle" fill="#111">Gate Voltage (V)</text>
<text x="272.20" y="409.60" font-size="11.4" text-anchor="start" fill="#111">(e)</text>
<text x="287.40" y="232.60" font-size="9.25" text-anchor="start" fill="#111">Top Gate, <tspan font-style="italic">T</tspan> =25°C</text>
<text x="343.80" y="257.50" font-size="8.5" text-anchor="start" fill="#111">Current Criterion (<tspan font-style="italic">I</tspan><tspan font-size="6.2" dy="2.17">C</tspan><tspan dy="-2.17">)</tspan></text>
<text x="345.10" y="280.70" font-size="8.9" text-anchor="start" fill="#111">Up</text>
<text x="292.20" y="343.80" font-size="8.9" text-anchor="start" fill="#111">Down</text>
<path d="M335.6 289.2L338.6 279.5" stroke="#111" stroke-width="1.3"/>
<path d="M339.6 276.3L340.3 281.4L336.4 280.2Z" fill="#111" stroke="#111" stroke-width="0.6"/>
<path d="M315.7 320.5L312.6 330.4" stroke="#111" stroke-width="1.3" stroke-dasharray="1.6 1.2"/>
<path d="M311.4 334.2L310.8 329.1L314.7 330.3Z" fill="#111" stroke="#111" stroke-width="0.6"/>
<rect x="356.6" y="292.7" width="72.79999999999995" height="77.30000000000001" fill="#fff"/>
<clipPath id="ci"><rect x="356.6" y="292.7" width="72.79999999999995" height="77.30000000000001"/></clipPath>
<g clip-path="url(#ci)">
<path d="M357.70 371.00 L358.19 369.30 L358.83 366.99 L359.60 364.24 L360.45 361.21 L361.37 358.05 L362.32 354.92 L363.27 351.98 L364.20 349.40 L365.12 347.10 L366.05 344.91 L367.02 342.82 L368.00 340.81 L369.01 338.86 L370.05 336.97 L371.11 335.12 L372.20 333.30 L373.32 331.51 L374.47 329.77 L375.65 328.08 L376.85 326.44 L378.08 324.86 L379.33 323.32 L380.60 321.83 L381.90 320.40 L383.23 319.02 L384.59 317.70 L385.99 316.42 L387.40 315.20 L388.83 314.03 L390.26 312.90 L391.68 311.83 L393.10 310.80 L394.50 309.83 L395.88 308.92 L397.26 308.06 L398.64 307.25 L400.04 306.48 L401.46 305.73 L402.91 305.01 L404.40 304.30 L405.94 303.60 L407.53 302.92 L409.16 302.27 L410.80 301.64 L412.45 301.05 L414.09 300.49 L415.71 299.97 L417.30 299.50 L418.92 299.07 L420.63 298.68 L422.36 298.33 L424.06 298.02 L425.67 297.74 L427.13 297.50 L428.40 297.28 L429.40 297.10 L430.11 296.96 L430.58 296.87 L430.84 296.82 L430.96 296.80 L430.98 296.80 L430.96 296.80 L430.95 296.81 L431.00 296.80" fill="none" stroke="#2d2dd8" stroke-width="1.3"/>
<path d="M356.20 369.50 L356.67 367.65 L357.29 365.14 L358.02 362.15 L358.84 358.86 L359.73 355.43 L360.65 352.06 L361.58 348.93 L362.50 346.20 L363.42 343.82 L364.36 341.59 L365.34 339.49 L366.34 337.50 L367.37 335.59 L368.42 333.73 L369.50 331.91 L370.60 330.10 L371.73 328.31 L372.88 326.58 L374.05 324.89 L375.26 323.25 L376.48 321.66 L377.73 320.13 L379.00 318.64 L380.30 317.20 L381.62 315.81 L382.95 314.47 L384.32 313.18 L385.70 311.94 L387.11 310.76 L388.55 309.62 L390.01 308.53 L391.50 307.50 L393.03 306.53 L394.61 305.61 L396.21 304.75 L397.84 303.94 L399.49 303.18 L401.14 302.45 L402.78 301.76 L404.40 301.10 L406.02 300.47 L407.64 299.89 L409.27 299.34 L410.90 298.83 L412.52 298.36 L414.13 297.91 L415.73 297.49 L417.30 297.10 L418.92 296.73 L420.63 296.40 L422.36 296.09 L424.06 295.81 L425.67 295.56 L427.13 295.35 L428.40 295.16 L429.40 295.00 L430.11 294.88 L430.58 294.81 L430.84 294.78 L430.96 294.77 L430.98 294.78 L430.96 294.79 L430.95 294.80 L431.00 294.80" fill="none" stroke="#e8307a" stroke-width="1.3" stroke-dasharray="2.6 1.8"/>
</g>
<rect x="356.6" y="292.7" width="72.79999999999995" height="77.30000000000001" fill="none" stroke="#333" stroke-width="0.9"/>
<path d="M356.60 292.70h-1.8M356.60 302.43h-1.8M356.60 314.34h-1.8M356.60 329.70h-1.8M356.60 351.34h-1.8M356.60 370.00v-2M380.87 370.00v-2M405.13 370.00v-2M429.40 370.00v-2M368.73 370.00v-1.2M393.00 370.00v-1.2M417.27 370.00v-1.2" stroke="#333" stroke-width="0.8" fill="none"/>
<text x="355.40" y="294.90" font-size="5.9" text-anchor="end" fill="#111">0.03</text>
<text x="355.40" y="304.63" font-size="5.9" text-anchor="end" fill="#111">0.025</text>
<text x="355.40" y="316.54" font-size="5.9" text-anchor="end" fill="#111">0.02</text>
<text x="355.40" y="331.90" font-size="5.9" text-anchor="end" fill="#111">0.015</text>
<text x="355.40" y="353.54" font-size="5.9" text-anchor="end" fill="#111">0.01</text>
<text x="356.60" y="377.00" font-size="5.9" text-anchor="middle" fill="#111">-1.3</text>
<text x="380.87" y="377.00" font-size="5.9" text-anchor="middle" fill="#111">-1.2</text>
<text x="405.13" y="377.00" font-size="5.9" text-anchor="middle" fill="#111">-1.1</text>
<text x="429.40" y="377.00" font-size="5.9" text-anchor="middle" fill="#111">-1</text>
<text x="394.00" y="323.20" font-size="7.1" text-anchor="start" fill="#111">CCW</text>
<path d="M373 351.8H387.5" stroke="#2d2dd8" stroke-width="1.3"/>
<path d="M373 359.4H387.5" stroke="#e8307a" stroke-width="1.3" stroke-dasharray="2.6 1.8"/>
<text x="388.30" y="353.60" font-size="6.1" text-anchor="start" fill="#111">Up-sweep</text>
<text x="388.30" y="361.20" font-size="6.1" text-anchor="start" fill="#111">Down-sweep</text>
<path d="M479.7 242.6H681.4" stroke="#333" stroke-width="0.95" stroke-dasharray="1.9 1.6"/>
<circle cx="490.8" cy="248.6" r="2.65" fill="#f042a8"/>
<circle cx="489.2" cy="266.2" r="2.65" fill="#f2a6d6"/>
<circle cx="492.1" cy="264.2" r="2.65" fill="#f2a6d6"/>
<circle cx="489.7" cy="268.1" r="2.65" fill="#f2a6d6"/>
<circle cx="502.4" cy="256.0" r="2.65" fill="#f042a8"/>
<circle cx="505.9" cy="253.3" r="2.65" fill="#f042a8"/>
<circle cx="501.7" cy="265.2" r="2.65" fill="#f2a6d6"/>
<circle cx="504.2" cy="263.7" r="2.65" fill="#f2a6d6"/>
<circle cx="517.5" cy="260.7" r="2.65" fill="#f042a8"/>
<circle cx="514.8" cy="265.2" r="2.65" fill="#f2a6d6"/>
<circle cx="518.6" cy="264.2" r="2.65" fill="#f042a8"/>
<circle cx="528.6" cy="260.9" r="2.65" fill="#f042a8"/>
<circle cx="530.2" cy="268.1" r="2.65" fill="#f042a8"/>
<circle cx="532.7" cy="266.2" r="2.65" fill="#f042a8"/>
<circle cx="538.9" cy="264.7" r="2.65" fill="#f042a8"/>
<circle cx="540.8" cy="262.8" r="2.65" fill="#f042a8"/>
<circle cx="539.3" cy="269.5" r="2.65" fill="#f042a8"/>
<circle cx="544.2" cy="269.1" r="2.65" fill="#f042a8"/>
<circle cx="551" cy="268.6" r="2.65" fill="#f2a6d6"/>
<circle cx="555.3" cy="268.6" r="2.65" fill="#f042a8"/>
<circle cx="555.8" cy="264.2" r="2.65" fill="#f042a8"/>
<circle cx="567.9" cy="264.2" r="2.65" fill="#f2a6d6"/>
<circle cx="565" cy="268.6" r="2.65" fill="#f042a8"/>
<circle cx="568.8" cy="269.5" r="2.65" fill="#f042a8"/>
<circle cx="567.9" cy="273.4" r="2.65" fill="#f042a8"/>
<circle cx="563" cy="270.5" r="2.65" fill="#f2a6d6"/>
<circle cx="576.5" cy="267.6" r="2.65" fill="#f042a8"/>
<circle cx="575.6" cy="272.4" r="2.65" fill="#f2a6d6"/>
<circle cx="579.4" cy="271.5" r="2.65" fill="#f042a8"/>
<circle cx="580.4" cy="277.8" r="2.65" fill="#f042a8"/>
<circle cx="587.2" cy="273.4" r="2.65" fill="#f2a6d6"/>
<circle cx="592" cy="273.4" r="2.65" fill="#f042a8"/>
<circle cx="592" cy="284.5" r="2.65" fill="#f042a8"/>
<circle cx="592.9" cy="270.5" r="2.65" fill="#f042a8"/>
<circle cx="593.9" cy="275.3" r="2.65" fill="#f042a8"/>
<circle cx="591" cy="268.6" r="2.65" fill="#f2a6d6"/>
<circle cx="602.6" cy="270.5" r="2.65" fill="#f2a6d6"/>
<circle cx="603.5" cy="275.3" r="2.65" fill="#f042a8"/>
<circle cx="602.6" cy="280.2" r="2.65" fill="#f042a8"/>
<circle cx="605.5" cy="283.6" r="2.65" fill="#f2a6d6"/>
<circle cx="615.6" cy="276.3" r="2.65" fill="#f2a6d6"/>
<circle cx="616.1" cy="283.1" r="2.65" fill="#f042a8"/>
<circle cx="619" cy="286.9" r="2.65" fill="#f042a8"/>
<circle cx="626.7" cy="282.6" r="2.65" fill="#f2a6d6"/>
<circle cx="580.7" cy="278" r="2.65" fill="#f042a8"/>
<circle cx="586.6" cy="274.4" r="2.65" fill="#f2a6d6"/>
<circle cx="594.6" cy="276.6" r="2.65" fill="#f042a8"/>
<circle cx="591.7" cy="284.6" r="2.65" fill="#f042a8"/>
<circle cx="601.2" cy="272.9" r="2.65" fill="#f2a6d6"/>
<circle cx="604.1" cy="275.8" r="2.65" fill="#f042a8"/>
<circle cx="607" cy="294.8" r="2.65" fill="#f042a8"/>
<circle cx="614.3" cy="280.2" r="2.65" fill="#f2a6d6"/>
<circle cx="618" cy="293.4" r="2.65" fill="#f042a8"/>
<circle cx="625.3" cy="284.6" r="2.65" fill="#f2a6d6"/>
<circle cx="626.7" cy="289" r="2.65" fill="#f2a6d6"/>
<circle cx="629.6" cy="292.6" r="2.65" fill="#f042a8"/>
<circle cx="633.3" cy="291.2" r="2.65" fill="#f2a6d6"/>
<circle cx="629.6" cy="304.3" r="2.65" fill="#f042a8"/>
<circle cx="639.1" cy="289" r="2.65" fill="#f2a6d6"/>
<circle cx="639.9" cy="294.1" r="2.65" fill="#f042a8"/>
<circle cx="645" cy="297" r="2.65" fill="#f042a8"/>
<circle cx="651.5" cy="294.8" r="2.65" fill="#f2a6d6"/>
<circle cx="655.9" cy="299.9" r="2.65" fill="#f042a8"/>
<circle cx="662.5" cy="298.5" r="2.65" fill="#f2a6d6"/>
<circle cx="667.6" cy="291.9" r="2.65" fill="#f042a8"/>
<circle cx="509" cy="262" r="2.65" fill="#f2a6d6"/>
<circle cx="521" cy="262.5" r="2.65" fill="#f042a8"/>
<circle cx="544" cy="266.5" r="2.65" fill="#f2a6d6"/>
<circle cx="549" cy="272" r="2.65" fill="#f042a8"/>
<circle cx="572" cy="268" r="2.65" fill="#f2a6d6"/>
<circle cx="499.3" cy="245.2" r="2.65" fill="#a6e0f0"/>
<circle cx="499.3" cy="250.0" r="2.65" fill="#2626f2"/>
<circle cx="499.3" cy="269.4" r="2.65" fill="#5e6af0"/>
<circle cx="510.7" cy="242.3" r="2.65" fill="#a6e0f0"/>
<circle cx="510.7" cy="247.3" r="2.65" fill="#4aa6f2"/>
<circle cx="514.3" cy="247.3" r="2.65" fill="#a6e0f0"/>
<circle cx="514.3" cy="251.2" r="2.65" fill="#4aa6f2"/>
<circle cx="510.7" cy="252.6" r="2.65" fill="#2626f2"/>
<circle cx="514.3" cy="254.6" r="2.65" fill="#2626f2"/>
<circle cx="510.7" cy="259.9" r="2.65" fill="#5e6af0"/>
<circle cx="514.3" cy="273.4" r="2.65" fill="#5e6af0"/>
<circle cx="525.9" cy="242.3" r="2.65" fill="#a6e0f0"/>
<circle cx="525.9" cy="248.8" r="2.65" fill="#4aa6f2"/>
<circle cx="525.9" cy="255.1" r="2.65" fill="#2626f2"/>
<circle cx="525.9" cy="257.0" r="2.65" fill="#2626f2"/>
<circle cx="525.9" cy="265.2" r="2.65" fill="#5e6af0"/>
<circle cx="525.9" cy="271.5" r="2.65" fill="#5e6af0"/>
<circle cx="536.9" cy="244.4" r="2.65" fill="#4aa6f2"/>
<circle cx="540.8" cy="245.4" r="2.65" fill="#a6e0f0"/>
<circle cx="536.9" cy="248.3" r="2.65" fill="#a6e0f0"/>
<circle cx="537.4" cy="253.1" r="2.65" fill="#2626f2"/>
<circle cx="536.9" cy="258" r="2.65" fill="#5e6af0"/>
<circle cx="541.3" cy="256.5" r="2.65" fill="#2626f2"/>
<circle cx="541.3" cy="265.2" r="2.65" fill="#5e6af0"/>
<circle cx="536.9" cy="275.3" r="2.65" fill="#5e6af0"/>
<circle cx="548.5" cy="243.9" r="2.65" fill="#a6e0f0"/>
<circle cx="552.4" cy="242" r="2.65" fill="#a6e0f0"/>
<circle cx="552.4" cy="245.9" r="2.65" fill="#4aa6f2"/>
<circle cx="548.5" cy="247.8" r="2.65" fill="#a6e0f0"/>
<circle cx="549" cy="252.2" r="2.65" fill="#2626f2"/>
<circle cx="548" cy="256" r="2.65" fill="#2626f2"/>
<circle cx="552.4" cy="256" r="2.65" fill="#2626f2"/>
<circle cx="548" cy="260.4" r="2.65" fill="#5e6af0"/>
<circle cx="552.4" cy="263.7" r="2.65" fill="#5e6af0"/>
<circle cx="549" cy="276.8" r="2.65" fill="#5e6af0"/>
<circle cx="563" cy="243.5" r="2.65" fill="#a6e0f0"/>
<circle cx="561.6" cy="246.8" r="2.65" fill="#a6e0f0"/>
<circle cx="560.1" cy="244.4" r="2.65" fill="#4aa6f2"/>
<circle cx="563.5" cy="252.6" r="2.65" fill="#2626f2"/>
<circle cx="563.5" cy="257" r="2.65" fill="#5e6af0"/>
<circle cx="560.6" cy="259.9" r="2.65" fill="#2626f2"/>
<circle cx="561.6" cy="263.3" r="2.65" fill="#5e6af0"/>
<circle cx="574.6" cy="242.5" r="2.65" fill="#a6e0f0"/>
<circle cx="579" cy="242.5" r="2.65" fill="#a6e0f0"/>
<circle cx="575.6" cy="245.9" r="2.65" fill="#5e6af0"/>
<circle cx="572.7" cy="249.3" r="2.65" fill="#5e6af0"/>
<circle cx="579" cy="247.8" r="2.65" fill="#2626f2"/>
<circle cx="574.6" cy="254.6" r="2.65" fill="#2626f2"/>
<circle cx="572.7" cy="260.9" r="2.65" fill="#2626f2"/>
<circle cx="579" cy="261.3" r="2.65" fill="#5e6af0"/>
<circle cx="586.2" cy="243" r="2.65" fill="#a6e0f0"/>
<circle cx="590.1" cy="242.5" r="2.65" fill="#a6e0f0"/>
<circle cx="586.2" cy="246.4" r="2.65" fill="#5e6af0"/>
<circle cx="585.2" cy="251.2" r="2.65" fill="#4aa6f2"/>
<circle cx="585.2" cy="256" r="2.65" fill="#5e6af0"/>
<circle cx="589.6" cy="258.9" r="2.65" fill="#5e6af0"/>
<circle cx="586.2" cy="264.2" r="2.65" fill="#5e6af0"/>
<circle cx="590.5" cy="243.5" r="2.65" fill="#a6e0f0"/>
<circle cx="601.6" cy="237.2" r="2.65" fill="#4aa6f2"/>
<circle cx="601.1" cy="243" r="2.65" fill="#a6e0f0"/>
<circle cx="596.8" cy="245.4" r="2.65" fill="#a6e0f0"/>
<circle cx="601.6" cy="245.9" r="2.65" fill="#4aa6f2"/>
<circle cx="599.7" cy="251.2" r="2.65" fill="#5e6af0"/>
<circle cx="601.6" cy="253.6" r="2.65" fill="#5e6af0"/>
<circle cx="601.1" cy="259.4" r="2.65" fill="#2626f2"/>
<circle cx="597.7" cy="261.8" r="2.65" fill="#2626f2"/>
<circle cx="596.8" cy="264.2" r="2.65" fill="#5e6af0"/>
<circle cx="591" cy="259.4" r="2.65" fill="#5e6af0"/>
<circle cx="610.8" cy="244.9" r="2.65" fill="#5e6af0"/>
<circle cx="610.3" cy="247.8" r="2.65" fill="#a6e0f0"/>
<circle cx="612.7" cy="250.7" r="2.65" fill="#4aa6f2"/>
<circle cx="610.8" cy="262.3" r="2.65" fill="#2626f2"/>
<circle cx="612.7" cy="264.2" r="2.65" fill="#5e6af0"/>
<circle cx="611.7" cy="268.1" r="2.65" fill="#2626f2"/>
<circle cx="623.8" cy="234.3" r="2.65" fill="#5e6af0"/>
<circle cx="623.3" cy="245.9" r="2.65" fill="#a6e0f0"/>
<circle cx="625.3" cy="249.7" r="2.65" fill="#5e6af0"/>
<circle cx="623.8" cy="251.7" r="2.65" fill="#5e6af0"/>
<circle cx="624.8" cy="255.5" r="2.65" fill="#4aa6f2"/>
<circle cx="624.3" cy="271.5" r="2.65" fill="#2626f2"/>
<circle cx="626.2" cy="273.4" r="2.65" fill="#2626f2"/>
<circle cx="637.1" cy="241.5" r="2.65" fill="#2626f2"/>
<circle cx="637.1" cy="248.8" r="2.65" fill="#5e6af0"/>
<circle cx="637.1" cy="253.6" r="2.65" fill="#a6e0f0"/>
<circle cx="634.2" cy="254.6" r="2.65" fill="#2626f2"/>
<circle cx="634.9" cy="258.4" r="2.65" fill="#a6e0f0"/>
<circle cx="634.7" cy="261.3" r="2.65" fill="#5e6af0"/>
<circle cx="634.7" cy="265.7" r="2.65" fill="#4aa6f2"/>
<circle cx="637.1" cy="271.5" r="2.65" fill="#4aa6f2"/>
<circle cx="648.2" cy="245.9" r="2.65" fill="#5e6af0"/>
<circle cx="649.6" cy="255.5" r="2.65" fill="#2626f2"/>
<circle cx="649.6" cy="263.3" r="2.65" fill="#5e6af0"/>
<circle cx="649.6" cy="273.9" r="2.65" fill="#a6e0f0"/>
<circle cx="648.2" cy="283.8" r="2.65" fill="#a6e0f0"/>
<circle cx="660.7" cy="242" r="2.65" fill="#2626f2"/>
<circle cx="650.1" cy="273.6" r="2.65" fill="#a6e0f0"/>
<circle cx="647.9" cy="283.9" r="2.65" fill="#a6e0f0"/>
<circle cx="661" cy="309.4" r="2.65" fill="#a6e0f0"/>
<circle cx="647.9" cy="292.6" r="2.65" fill="#4aa6f2"/>
<circle cx="650.1" cy="298.5" r="2.65" fill="#4aa6f2"/>
<circle cx="661" cy="294.8" r="2.65" fill="#5e6af0"/>
<circle cx="625.3" cy="272.9" r="2.65" fill="#2626f2"/>
<rect x="479.7" y="219.3" width="201.7" height="162.89999999999998" fill="none" stroke="#5a5a5a" stroke-width="1.25"/>
<path d="M479.70 219.30h3M479.70 242.57h3M479.70 265.84h3M479.70 289.11h3M479.70 312.39h3M479.70 335.66h3M479.70 358.93h3M479.70 382.20h3M479.70 230.94h1.6M479.70 254.21h1.6M479.70 277.48h1.6M479.70 300.75h1.6M479.70 324.02h1.6M479.70 347.29h1.6M479.70 370.56h1.6" stroke="#5a5a5a" stroke-width="0.9" fill="none"/>
<path d="M480.49 382.20v-3M518.29 382.20v-3M556.09 382.20v-3M593.89 382.20v-3M631.69 382.20v-3M669.49 382.20v-3M491.87 382.20v-1.6M498.53 382.20v-1.6M503.25 382.20v-1.6M506.91 382.20v-1.6M509.91 382.20v-1.6M512.44 382.20v-1.6M514.63 382.20v-1.6M516.56 382.20v-1.6M529.67 382.20v-1.6M536.33 382.20v-1.6M541.05 382.20v-1.6M544.71 382.20v-1.6M547.71 382.20v-1.6M550.24 382.20v-1.6M552.43 382.20v-1.6M554.36 382.20v-1.6M567.47 382.20v-1.6M574.13 382.20v-1.6M578.85 382.20v-1.6M582.51 382.20v-1.6M585.51 382.20v-1.6M588.04 382.20v-1.6M590.23 382.20v-1.6M592.16 382.20v-1.6M605.27 382.20v-1.6M611.93 382.20v-1.6M616.65 382.20v-1.6M620.31 382.20v-1.6M623.31 382.20v-1.6M625.84 382.20v-1.6M628.03 382.20v-1.6M629.96 382.20v-1.6M643.07 382.20v-1.6M649.73 382.20v-1.6M654.45 382.20v-1.6M658.11 382.20v-1.6M661.11 382.20v-1.6M663.64 382.20v-1.6M665.83 382.20v-1.6M667.76 382.20v-1.6M680.87 382.20v-1.6" stroke="#5a5a5a" stroke-width="0.9" fill="none"/>
<text x="475.80" y="222.40" font-size="9" text-anchor="end" fill="#111">5</text>
<text x="475.80" y="245.67" font-size="9" text-anchor="end" fill="#111">0</text>
<text x="475.80" y="268.94" font-size="9" text-anchor="end" fill="#111">-5</text>
<text x="475.80" y="292.21" font-size="9" text-anchor="end" fill="#111">-10</text>
<text x="475.80" y="315.49" font-size="9" text-anchor="end" fill="#111">-15</text>
<text x="475.80" y="338.76" font-size="9" text-anchor="end" fill="#111">-20</text>
<text x="475.80" y="362.03" font-size="9" text-anchor="end" fill="#111">-25</text>
<text x="475.80" y="385.30" font-size="9" text-anchor="end" fill="#111">-30</text>
<text x="480.19" y="393.3" font-size="9" text-anchor="middle" fill="#111">10<tspan font-size="6.12" dy="-2.79">-4</tspan></text>
<text x="517.99" y="393.3" font-size="9" text-anchor="middle" fill="#111">10<tspan font-size="6.12" dy="-2.79">-3</tspan></text>
<text x="555.79" y="393.3" font-size="9" text-anchor="middle" fill="#111">10<tspan font-size="6.12" dy="-2.79">-2</tspan></text>
<text x="593.59" y="393.3" font-size="9" text-anchor="middle" fill="#111">10<tspan font-size="6.12" dy="-2.79">-1</tspan></text>
<text x="631.39" y="393.3" font-size="9" text-anchor="middle" fill="#111">10<tspan font-size="6.12" dy="-2.79">0</tspan></text>
<text x="669.19" y="393.3" font-size="9" text-anchor="middle" fill="#111">10<tspan font-size="6.12" dy="-2.79">1</tspan></text>
<text x="458.10" y="299.40" font-size="12" text-anchor="middle" fill="#111" transform="rotate(-90 458.10 299.40)">Hysteresis Width (mV nm<tspan font-size="8.16" dy="-4.49">-1</tspan><tspan dy="4.49">)</tspan></text>
<text x="580.70" y="411.00" font-size="12" text-anchor="middle" fill="#111">Sweep Frequency (Hz)</text>
<text x="461.20" y="409.60" font-size="11.4" text-anchor="start" fill="#111">(f)</text>
<text x="491.70" y="231.70" font-size="8.5" text-anchor="start" fill="#111"><tspan font-style="italic">ΔV</tspan><tspan font-size="6.0" dy="2.10">H</tspan><tspan dy="-2.10">=0</tspan></text>
<text x="498.50" y="336.80" font-size="8.5" text-anchor="start" fill="#111">Vacuum, <tspan font-style="italic">T</tspan>=25°C, <tspan font-style="italic">V</tspan><tspan font-size="6" font-style="italic" dy="2.1">Gmax</tspan><tspan dy="-2.1">=2.5V</tspan></text>
<circle cx="501.4" cy="351.6" r="2.7" fill="#2828f0"/>
<circle cx="501.4" cy="362.4" r="2.7" fill="#f040b0"/>
<text x="513.70" y="354.40" font-size="8.7" text-anchor="start" fill="#111">Top Gate (D1-D5)</text>
<text x="513.70" y="364.80" font-size="8.55" text-anchor="start" fill="#111">Back Gate (D1-D3)</text>
<path d="M277.2 448.5H478.4" stroke="#333" stroke-width="0.95" stroke-dasharray="1.9 1.6"/>
<circle cx="296.8" cy="455.8" r="2.8" fill="#4aa2f4"/>
<circle cx="296.8" cy="473" r="2.8" fill="#52d6c6"/>
<circle cx="296.8" cy="477.2" r="2.8" fill="#f246c6"/>
<circle cx="296.8" cy="483.7" r="2.8" fill="#f42a2a"/>
<circle cx="308.3" cy="458.4" r="2.8" fill="#4aa2f4"/>
<circle cx="311.9" cy="456.3" r="2.8" fill="#4aa2f4"/>
<circle cx="308.3" cy="470.9" r="2.8" fill="#52d6c6"/>
<circle cx="311.9" cy="467.8" r="2.8" fill="#52d6c6"/>
<circle cx="308.3" cy="475.7" r="2.8" fill="#f246c6"/>
<circle cx="311.9" cy="479.8" r="2.8" fill="#f246c6"/>
<circle cx="308.3" cy="487.7" r="2.8" fill="#f42a2a"/>
<circle cx="311.9" cy="489.6" r="2.8" fill="#f42a2a"/>
<circle cx="323.5" cy="461" r="2.8" fill="#4aa2f4"/>
<circle cx="323.5" cy="463.1" r="2.8" fill="#4aa2f4"/>
<circle cx="323.5" cy="468.8" r="2.8" fill="#52d6c6"/>
<circle cx="323.5" cy="472" r="2.8" fill="#52d6c6"/>
<circle cx="323.5" cy="479.8" r="2.8" fill="#f246c6"/>
<circle cx="323.5" cy="485.6" r="2.8" fill="#f246c6"/>
<circle cx="323.5" cy="488.2" r="2.8" fill="#f42a2a"/>
<circle cx="323.5" cy="496.3" r="2.8" fill="#f42a2a"/>
<circle cx="334.5" cy="458.4" r="2.8" fill="#4aa2f4"/>
<circle cx="334.5" cy="464.1" r="2.8" fill="#4aa2f4"/>
<circle cx="338.6" cy="463.1" r="2.8" fill="#4aa2f4"/>
<circle cx="334.5" cy="470.4" r="2.8" fill="#52d6c6"/>
<circle cx="338.6" cy="473" r="2.8" fill="#52d6c6"/>
<circle cx="334.5" cy="476.7" r="2.8" fill="#52d6c6"/>
<circle cx="334.5" cy="479.8" r="2.8" fill="#f246c6"/>
<circle cx="338.6" cy="480.4" r="2.8" fill="#f246c6"/>
<circle cx="334.5" cy="485.6" r="2.8" fill="#f246c6"/>
<circle cx="334.5" cy="501.8" r="2.8" fill="#f42a2a"/>
<circle cx="338.6" cy="499.2" r="2.8" fill="#f42a2a"/>
<circle cx="334.5" cy="503.4" r="2.8" fill="#f42a2a"/>
<circle cx="346.3" cy="457.9" r="2.8" fill="#4aa2f4"/>
<circle cx="346.3" cy="461.5" r="2.8" fill="#4aa2f4"/>
<circle cx="350.5" cy="462" r="2.8" fill="#4aa2f4"/>
<circle cx="346.3" cy="469.4" r="2.8" fill="#52d6c6"/>
<circle cx="350.5" cy="473" r="2.8" fill="#52d6c6"/>
<circle cx="345.8" cy="474.6" r="2.8" fill="#52d6c6"/>
<circle cx="346.3" cy="477.2" r="2.8" fill="#f246c6"/>
<circle cx="350.5" cy="477.7" r="2.8" fill="#f246c6"/>
<circle cx="345.8" cy="483" r="2.8" fill="#f246c6"/>
<circle cx="346.3" cy="492.4" r="2.8" fill="#f42a2a"/>
<circle cx="346.3" cy="498.2" r="2.8" fill="#f42a2a"/>
<circle cx="350.5" cy="502.4" r="2.8" fill="#f42a2a"/>
<circle cx="361.5" cy="458.9" r="2.8" fill="#4aa2f4"/>
<circle cx="361.5" cy="462.6" r="2.8" fill="#4aa2f4"/>
<circle cx="359.4" cy="466.2" r="2.8" fill="#4aa2f4"/>
<circle cx="361.5" cy="470.4" r="2.8" fill="#52d6c6"/>
<circle cx="361.5" cy="473.6" r="2.8" fill="#52d6c6"/>
<circle cx="359.4" cy="476.2" r="2.8" fill="#52d6c6"/>
<circle cx="361.5" cy="485.1" r="2.8" fill="#f246c6"/>
<circle cx="359.4" cy="487.7" r="2.8" fill="#f246c6"/>
<circle cx="361.5" cy="497.1" r="2.8" fill="#f42a2a"/>
<circle cx="359.4" cy="502.4" r="2.8" fill="#f42a2a"/>
<circle cx="361.5" cy="505.5" r="2.8" fill="#f42a2a"/>
<circle cx="372.5" cy="460.5" r="2.8" fill="#4aa2f4"/>
<circle cx="376.6" cy="460.5" r="2.8" fill="#4aa2f4"/>
<circle cx="370.4" cy="466.8" r="2.8" fill="#4aa2f4"/>
<circle cx="370.4" cy="475.7" r="2.8" fill="#52d6c6"/>
<circle cx="373.5" cy="479.3" r="2.8" fill="#52d6c6"/>
<circle cx="376.6" cy="477.7" r="2.8" fill="#52d6c6"/>
<circle cx="370.4" cy="487.7" r="2.8" fill="#f246c6"/>
<circle cx="373.5" cy="492.9" r="2.8" fill="#f246c6"/>
<circle cx="376.6" cy="489.8" r="2.8" fill="#f246c6"/>
<circle cx="371.4" cy="505.5" r="2.8" fill="#f42a2a"/>
<circle cx="375.6" cy="503.4" r="2.8" fill="#f42a2a"/>
<circle cx="382.9" cy="461.5" r="2.8" fill="#4aa2f4"/>
<circle cx="385" cy="464.1" r="2.8" fill="#4aa2f4"/>
<circle cx="388.2" cy="465.7" r="2.8" fill="#4aa2f4"/>
<circle cx="382.9" cy="469.4" r="2.8" fill="#52d6c6"/>
<circle cx="385" cy="476.7" r="2.8" fill="#52d6c6"/>
<circle cx="388.2" cy="477.2" r="2.8" fill="#52d6c6"/>
<circle cx="382.9" cy="483.5" r="2.8" fill="#f246c6"/>
<circle cx="384" cy="486.6" r="2.8" fill="#f246c6"/>
<circle cx="388.2" cy="486.6" r="2.8" fill="#f246c6"/>
<circle cx="382.9" cy="500.3" r="2.8" fill="#f42a2a"/>
<circle cx="384" cy="505.5" r="2.8" fill="#f42a2a"/>
<circle cx="388.2" cy="504.5" r="2.8" fill="#f42a2a"/>
<circle cx="395.5" cy="468.3" r="2.8" fill="#4aa2f4"/>
<circle cx="399.7" cy="465.2" r="2.8" fill="#4aa2f4"/>
<circle cx="395" cy="481.9" r="2.8" fill="#52d6c6"/>
<circle cx="399.7" cy="477.2" r="2.8" fill="#52d6c6"/>
<circle cx="394.5" cy="489.8" r="2.8" fill="#f246c6"/>
<circle cx="399.2" cy="486.6" r="2.8" fill="#f246c6"/>
<circle cx="397.6" cy="491.9" r="2.8" fill="#f246c6"/>
<circle cx="395.5" cy="507.6" r="2.8" fill="#f42a2a"/>
<circle cx="399.7" cy="504.5" r="2.8" fill="#f42a2a"/>
<circle cx="398.1" cy="510.7" r="2.8" fill="#f42a2a"/>
<circle cx="400.6" cy="465.7" r="2.8" fill="#4aa2f4"/>
<circle cx="400.6" cy="477" r="2.8" fill="#52d6c6"/>
<circle cx="400.6" cy="487.1" r="2.8" fill="#f246c6"/>
<circle cx="400.6" cy="490.8" r="2.8" fill="#f246c6"/>
<circle cx="400.6" cy="504" r="2.8" fill="#f42a2a"/>
<circle cx="408.8" cy="468.8" r="2.8" fill="#4aa2f4"/>
<circle cx="409.8" cy="473.6" r="2.8" fill="#4aa2f4"/>
<circle cx="410.7" cy="477.6" r="2.8" fill="#52d6c6"/>
<circle cx="408.8" cy="480.2" r="2.8" fill="#52d6c6"/>
<circle cx="408.8" cy="487.1" r="2.8" fill="#f246c6"/>
<circle cx="409.8" cy="491.5" r="2.8" fill="#f246c6"/>
<circle cx="410.7" cy="498.4" r="2.8" fill="#f246c6"/>
<circle cx="408.8" cy="505.3" r="2.8" fill="#f42a2a"/>
<circle cx="409.8" cy="509" r="2.8" fill="#f42a2a"/>
<circle cx="410.7" cy="512.8" r="2.8" fill="#f42a2a"/>
<circle cx="422" cy="477" r="2.8" fill="#4aa2f4"/>
<circle cx="423.9" cy="479.5" r="2.8" fill="#4aa2f4"/>
<circle cx="422" cy="488.3" r="2.8" fill="#52d6c6"/>
<circle cx="423.9" cy="490.8" r="2.8" fill="#52d6c6"/>
<circle cx="422" cy="493.3" r="2.8" fill="#f246c6"/>
<circle cx="423.9" cy="502.1" r="2.8" fill="#f246c6"/>
<circle cx="421.6" cy="505.3" r="2.8" fill="#f246c6"/>
<circle cx="421.6" cy="508.4" r="2.8" fill="#f42a2a"/>
<circle cx="422.6" cy="511.6" r="2.8" fill="#f42a2a"/>
<circle cx="423.9" cy="512.8" r="2.8" fill="#f42a2a"/>
<circle cx="435.2" cy="480.2" r="2.8" fill="#4aa2f4"/>
<circle cx="432.9" cy="483.9" r="2.8" fill="#4aa2f4"/>
<circle cx="432.9" cy="490.8" r="2.8" fill="#52d6c6"/>
<circle cx="435.2" cy="494" r="2.8" fill="#52d6c6"/>
<circle cx="435.2" cy="500.3" r="2.8" fill="#f246c6"/>
<circle cx="432.9" cy="504.6" r="2.8" fill="#f246c6"/>
<circle cx="432.9" cy="522.2" r="2.8" fill="#f42a2a"/>
<circle cx="435.2" cy="525" r="2.8" fill="#f42a2a"/>
<circle cx="448.4" cy="484.5" r="2.8" fill="#4aa2f4"/>
<circle cx="445.9" cy="486.4" r="2.8" fill="#4aa2f4"/>
<circle cx="447.7" cy="492.7" r="2.8" fill="#52d6c6"/>
<circle cx="447.7" cy="498.1" r="2.8" fill="#f246c6"/>
<circle cx="447.7" cy="523.2" r="2.8" fill="#f42a2a"/>
<circle cx="459" cy="487.9" r="2.8" fill="#4aa2f4"/>
<circle cx="459" cy="500.9" r="2.8" fill="#52d6c6"/>
<circle cx="459" cy="512.3" r="2.8" fill="#f246c6"/>
<circle cx="459" cy="531.6" r="2.8" fill="#f42a2a"/>
<circle cx="469.7" cy="492.1" r="2.8" fill="#4aa2f4"/>
<circle cx="469.7" cy="511.3" r="2.8" fill="#52d6c6"/>
<circle cx="469.7" cy="521.1" r="2.8" fill="#f246c6"/>
<circle cx="469.7" cy="542.3" r="2.8" fill="#f42a2a"/>
<rect x="277.2" y="425.3" width="201.2" height="162.49999999999994" fill="none" stroke="#5a5a5a" stroke-width="1.25"/>
<path d="M277.20 425.30h3M277.20 448.51h3M277.20 471.73h3M277.20 494.94h3M277.20 518.16h3M277.20 541.37h3M277.20 564.59h3M277.20 587.80h3M277.20 436.91h1.6M277.20 460.12h1.6M277.20 483.34h1.6M277.20 506.55h1.6M277.20 529.76h1.6M277.20 552.98h1.6M277.20 576.19h1.6" stroke="#5a5a5a" stroke-width="0.9" fill="none"/>
<path d="M277.20 587.80v-3M315.30 587.80v-3M353.40 587.80v-3M391.50 587.80v-3M429.60 587.80v-3M467.69 587.80v-3M288.67 587.80v-1.6M295.38 587.80v-1.6M300.14 587.80v-1.6M303.83 587.80v-1.6M306.85 587.80v-1.6M309.40 587.80v-1.6M311.61 587.80v-1.6M313.56 587.80v-1.6M326.77 587.80v-1.6M333.48 587.80v-1.6M338.24 587.80v-1.6M341.93 587.80v-1.6M344.95 587.80v-1.6M347.50 587.80v-1.6M349.71 587.80v-1.6M351.65 587.80v-1.6M364.87 587.80v-1.6M371.58 587.80v-1.6M376.34 587.80v-1.6M380.03 587.80v-1.6M383.04 587.80v-1.6M385.59 587.80v-1.6M387.80 587.80v-1.6M389.75 587.80v-1.6M402.97 587.80v-1.6M409.67 587.80v-1.6M414.43 587.80v-1.6M418.13 587.80v-1.6M421.14 587.80v-1.6M423.69 587.80v-1.6M425.90 587.80v-1.6M427.85 587.80v-1.6M441.06 587.80v-1.6M447.77 587.80v-1.6M452.53 587.80v-1.6M456.23 587.80v-1.6M459.24 587.80v-1.6M461.79 587.80v-1.6M464.00 587.80v-1.6M465.95 587.80v-1.6" stroke="#5a5a5a" stroke-width="0.9" fill="none"/>
<text x="273.60" y="428.20" font-size="9" text-anchor="end" fill="#111">5</text>
<text x="273.60" y="451.41" font-size="9" text-anchor="end" fill="#111">0</text>
<text x="273.60" y="474.63" font-size="9" text-anchor="end" fill="#111">-5</text>
<text x="273.60" y="497.84" font-size="9" text-anchor="end" fill="#111">-10</text>
<text x="273.60" y="521.06" font-size="9" text-anchor="end" fill="#111">-15</text>
<text x="273.60" y="544.27" font-size="9" text-anchor="end" fill="#111">-20</text>
<text x="273.60" y="567.49" font-size="9" text-anchor="end" fill="#111">-25</text>
<text x="273.60" y="590.70" font-size="9" text-anchor="end" fill="#111">-30</text>
<text x="276.70" y="599.7" font-size="9" text-anchor="middle" fill="#111">10<tspan font-size="6.12" dy="-2.79">-4</tspan></text>
<text x="314.80" y="599.7" font-size="9" text-anchor="middle" fill="#111">10<tspan font-size="6.12" dy="-2.79">-3</tspan></text>
<text x="352.90" y="599.7" font-size="9" text-anchor="middle" fill="#111">10<tspan font-size="6.12" dy="-2.79">-2</tspan></text>
<text x="391.00" y="599.7" font-size="9" text-anchor="middle" fill="#111">10<tspan font-size="6.12" dy="-2.79">-1</tspan></text>
<text x="429.10" y="599.7" font-size="9" text-anchor="middle" fill="#111">10<tspan font-size="6.12" dy="-2.79">0</tspan></text>
<text x="467.19" y="599.7" font-size="9" text-anchor="middle" fill="#111">10<tspan font-size="6.12" dy="-2.79">1</tspan></text>
<text x="255.40" y="505.50" font-size="12" text-anchor="middle" fill="#111" transform="rotate(-90 255.40 505.50)">Hysteresis Width (mV nm<tspan font-size="8.16" dy="-4.49">-1</tspan><tspan dy="4.49">)</tspan></text>
<text x="378.00" y="615.80" font-size="12" text-anchor="middle" fill="#111">Sweep Frequency (Hz)</text>
<text x="250.80" y="611.80" font-size="11.4" text-anchor="start" fill="#111">(g)</text>
<circle cx="300" cy="535.00" r="2.7" fill="#4aa2f4"/>
<text x="312.50" y="537.80" font-size="8.7" text-anchor="start" fill="#111"><tspan font-style="italic">V</tspan><tspan font-size="5.7" dy="2.1">Gmax</tspan><tspan dy="-2.1">=0V</tspan></text>
<circle cx="300" cy="547.17" r="2.7" fill="#52d6c6"/>
<text x="312.50" y="549.97" font-size="8.7" text-anchor="start" fill="#111"><tspan font-style="italic">V</tspan><tspan font-size="5.7" dy="2.1">Gmax</tspan><tspan dy="-2.1">=1V</tspan></text>
<circle cx="300" cy="559.34" r="2.7" fill="#f246c6"/>
<text x="312.50" y="562.14" font-size="8.7" text-anchor="start" fill="#111"><tspan font-style="italic">V</tspan><tspan font-size="5.7" dy="2.1">Gmax</tspan><tspan dy="-2.1">=2V</tspan></text>
<circle cx="300" cy="571.51" r="2.7" fill="#f42a2a"/>
<text x="312.50" y="574.31" font-size="8.7" text-anchor="start" fill="#111"><tspan font-style="italic">V</tspan><tspan font-size="5.7" dy="2.1">Gmax</tspan><tspan dy="-2.1">=3V</tspan></text>
<text x="365.10" y="560.60" font-size="8.5" text-anchor="start" fill="#111">Top Gate, Vacuum, <tspan font-style="italic">T</tspan>=25°C</text>
<text x="365.10" y="571.50" font-size="8.5" text-anchor="start" fill="#111"><tspan font-style="italic">V</tspan><tspan font-size="6" dy="2.1">Gmin</tspan><tspan dy="-2.1">= -2V</tspan></text>
</svg></body></html>
